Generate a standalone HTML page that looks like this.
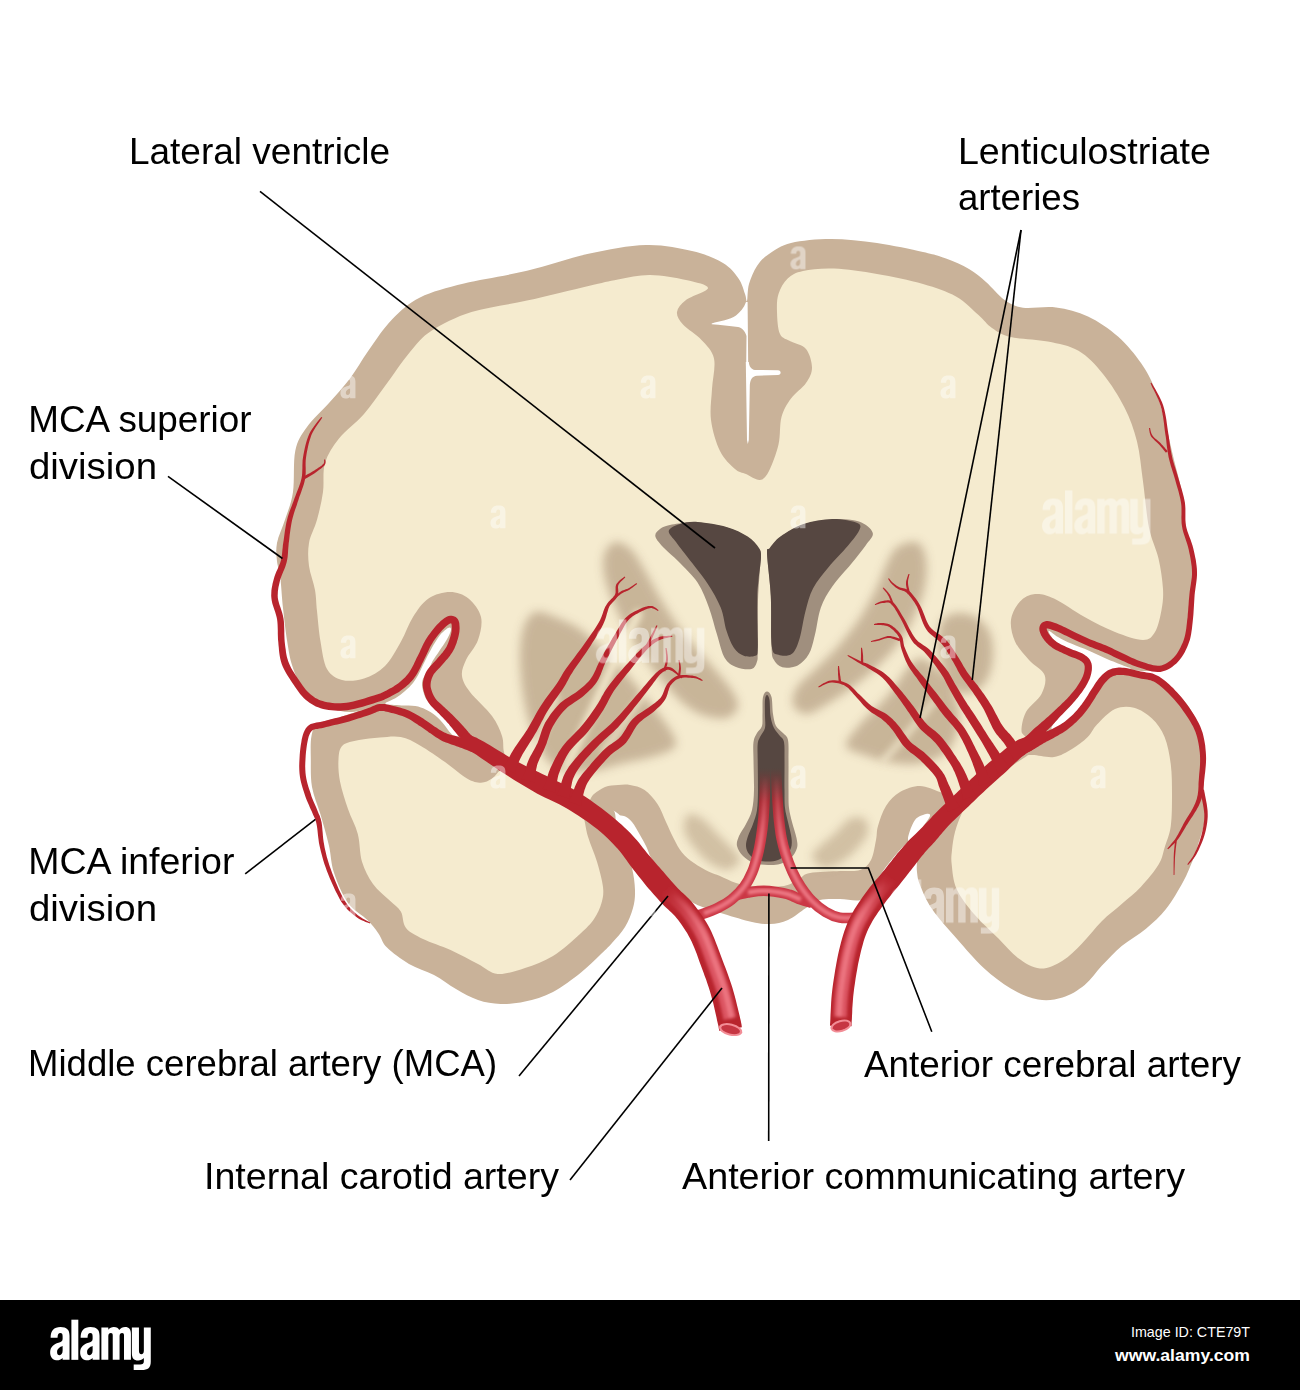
<!DOCTYPE html>
<html><head><meta charset="utf-8"><title>Brain arteries</title>
<style>
html,body{margin:0;padding:0;background:#fff;}
body{width:1300px;height:1390px;overflow:hidden;font-family:"Liberation Sans",sans-serif;}
svg{display:block;}
text{font-family:"Liberation Sans",sans-serif;}
</style></head><body>
<svg width="1300" height="1390" viewBox="0 0 1300 1390">
<defs>
<filter id="b7" x="-30%" y="-30%" width="160%" height="160%"><feGaussianBlur stdDeviation="5"/></filter>
<filter id="b4" x="-30%" y="-30%" width="160%" height="160%"><feGaussianBlur stdDeviation="3.5"/></filter>
<filter id="b2" x="-30%" y="-30%" width="160%" height="160%"><feGaussianBlur stdDeviation="1.6"/></filter>
<linearGradient id="gA" gradientUnits="userSpaceOnUse" x1="0" y1="768" x2="0" y2="835">
<stop offset="0" stop-color="#8c2a2c" stop-opacity="0"/><stop offset="0.5" stop-color="#b02832" stop-opacity="0.9"/><stop offset="1" stop-color="#cb3745" stop-opacity="1"/></linearGradient>
<linearGradient id="gB" gradientUnits="userSpaceOnUse" x1="0" y1="775" x2="0" y2="850">
<stop offset="0" stop-color="#ec7682" stop-opacity="0"/><stop offset="1" stop-color="#ec7682" stop-opacity="1"/></linearGradient>
</defs>
<path d="M747 301C747.7 299.3 747.3 289.8 749 284C750.7 278.2 753.7 271 757 266C760.3 261 763.3 257.8 769 254C774.7 250.2 780.7 245.5 791 243C801.3 240.5 816.7 239 831 239C845.3 239 861.7 240.8 877 243C892.3 245.2 911.5 249.4 923 252C934.5 254.6 938.3 255.7 946 258.5C953.7 261.3 962.3 265.1 969 269C975.7 272.9 980.1 276.8 986 282C991.9 287.2 998.4 295.7 1004.6 300C1010.8 304.3 1014.4 306.4 1023 307.7C1031.6 308.9 1045.2 306 1056 307.5C1066.8 309 1077.7 311.7 1088 316.5C1098.3 321.3 1109.2 328.8 1118 336.5C1126.8 344.2 1134.9 354.4 1141 363C1147.1 371.6 1150.6 378.5 1154.5 388C1158.4 397.5 1161.3 408 1164.6 420C1167.8 432 1170.9 447.2 1174 460C1177.1 472.8 1181 485.7 1183 497C1185 508.3 1184.3 517.5 1186 527.7C1187.7 538 1191.7 548.3 1193 558.5C1194.3 568.7 1194.3 578.8 1194 589C1193.7 599.2 1192 611.8 1191 620C1190 628.2 1189.8 631.8 1188 638C1186.2 644.2 1183.9 651.8 1180 657C1176.1 662.2 1170.3 666.7 1164.6 669C1158.9 671.3 1153.4 670.5 1146 671C1138.6 671.5 1127.7 667.2 1120 672C1112.3 676.8 1110 687 1100 700C1090 713 1076.7 735 1060 750C1043.3 765 1017 779.7 1000 790C983 800.3 969.7 805.3 958 812C946.3 818.7 938.3 825 930 830C921.7 835 914.8 836.5 908 842C901.2 847.5 895.2 855.3 889 863C882.8 870.7 875.7 881.8 871 888C866.3 894.2 866.2 898.2 861 900C855.8 901.8 846.8 899 840 899C833.2 899 825.7 898.5 820 900C814.3 901.5 811.3 904.7 806 908C800.7 911.3 794 917.3 788 920C782 922.7 776 923.7 770 924C764 924.3 759.7 923.7 752 922C744.3 920.3 732.7 916.7 724 914C715.3 911.3 706 908.3 700 906C694 903.7 691.3 901.5 688 900C684.7 898.5 684.4 901.2 680 897C675.6 892.8 667.7 883.7 661.5 875C655.3 866.3 650.2 854.8 643 844.6C635.8 834.4 625.7 820.4 618.5 814C611.3 807.6 605.1 808.3 600 806C594.9 803.7 598 805.7 588 800C578 794.3 558 780.3 540 772C522 763.7 496.7 756.2 480 750C463.3 743.8 451.3 740.7 440 735C428.7 729.3 419.5 720.7 412 716C404.5 711.3 400.5 708.7 395 707C389.5 705.3 386.2 705.2 379 706C371.8 706.8 359.7 711.7 351.5 712C343.3 712.3 336.1 710.1 330 708C323.9 705.9 319.8 703.2 315 699.5C310.2 695.8 304.8 691.5 301 685.7C297.2 680 294.3 672.3 292 665C289.7 657.7 288.8 651.5 287.3 642C285.8 632.5 284.2 618.8 283 608C281.8 597.2 281.3 585.2 280.3 577.4C279.3 569.6 277.6 567 277 561.3C276.4 555.6 275.7 549.9 277 543C278.3 536.1 282.3 528.3 285 519.8C287.7 511.3 291.3 503.5 293 492C294.7 480.5 293 461.5 295.3 450.7C297.6 439.9 301.4 434.9 307 427C312.6 419.1 321.8 411.1 329 403C336.2 394.9 343.4 387.2 350 378.5C356.6 369.8 361.5 360.3 368.5 350.5C375.5 340.7 383.4 328.3 392 319.5C400.6 310.7 408 303.5 420 297.5C432 291.5 446.2 287.9 464 283.5C481.8 279.1 506.2 275.8 527 270.8C547.8 265.9 568.7 258.1 588.5 253.8C608.3 249.5 628.8 245.5 646 245C663.2 244.5 679.2 248 692 251C704.8 254 715.2 258.4 723 263C730.8 267.6 734.8 273.3 738.5 278.5C742.2 283.7 743.6 290.2 745 294C746.4 297.8 746.3 302.7 747 301Z" fill="#c9b299"/>
<path d="M318 724C323.1 720.8 332.8 719.4 342 716.5C351.2 713.6 364.2 708.6 373 706.7C381.8 704.8 387.4 704.3 394.6 705C401.8 705.7 409.3 707.7 416 711C422.7 714.3 427.9 720 434.6 724.6C441.3 729.2 445.1 732.6 456 738.5C466.9 744.4 482.7 751.4 500 760C517.3 768.6 541.7 782.3 560 790C578.3 797.7 600.7 799.2 610 806C619.3 812.8 613.7 824.5 616 831C618.3 837.5 621.3 838.8 624 845C626.7 851.2 630.2 860.5 632 868C633.8 875.5 634.8 883.3 635 890C635.2 896.7 634.7 901.8 633 908C631.3 914.2 628.5 921.2 625 927C621.5 932.8 616.2 938.3 612 943C607.8 947.7 605.2 950.1 600 955C594.8 959.9 588.8 966.3 581 972.5C573.2 978.7 562.3 987.1 553 992C543.7 996.9 533.8 999.6 525 1001.6C516.2 1003.6 508.3 1004.3 500.5 1004C492.7 1003.7 485.4 1002.5 478 1000C470.6 997.5 463.3 993.2 456 989C448.7 984.8 441.8 979.2 434 975C426.2 970.8 416.8 968.6 409 964C401.2 959.4 392.1 952.6 387 947.6C381.9 942.6 381.9 938.3 378.6 933.7C375.4 929.1 372.6 925.1 367.5 920C362.4 914.9 353.6 910.9 348 903C342.4 895.1 337.2 882.5 334 872.8C330.8 863.1 331.1 854.7 328.8 845C326.6 835.3 323.3 824.3 320.5 814.6C317.7 804.9 313.6 796.3 312 787C310.4 777.7 310.9 767.5 310.8 759C310.7 750.5 310.3 741.8 311.5 736C312.7 730.2 312.9 727.2 318 724Z" fill="#c9b299"/>
<path d="M1054 727.7C1061 721.7 1065.9 715.7 1072 709C1078.1 702.3 1084.6 693.4 1090.8 687.7C1097 682 1102.8 677.6 1109 675C1115.2 672.4 1120.5 672 1127.7 672C1134.9 672 1144.8 672.4 1152 675C1159.2 677.6 1165.1 683 1170.8 687.7C1176.5 692.4 1181.4 696.9 1186 703C1190.6 709.1 1195.4 716.9 1198.5 724.6C1201.6 732.3 1203.8 739.8 1204.6 749C1205.3 758.2 1202.8 770.2 1203 780C1203.2 789.8 1205.8 800.3 1206 807.7C1206.2 815.1 1205.4 818.2 1204 824.6C1202.6 831 1199.5 840.1 1197.7 846C1195.9 851.9 1195.5 853.7 1193 859.7C1190.5 865.7 1187.5 873.8 1183 882C1178.5 890.2 1172.2 901.2 1166 909C1159.8 916.8 1153.4 922.5 1146 928.7C1138.6 934.9 1129 939.9 1121.7 946C1114.4 952.1 1108.2 959.1 1102 965.6C1095.8 972.1 1091.3 979.7 1084.7 985C1078.1 990.3 1070.3 995.2 1062.5 997.6C1054.7 1000 1046.6 1001 1038 999.5C1029.4 998 1019.8 993.8 1010.8 988.5C1001.8 983.2 992.7 976.3 983.7 968C974.7 959.7 965.2 948.3 956.6 938.5C948 928.7 938.1 917.9 932 909C925.9 900.1 922.5 891.2 920 885C917.5 878.8 917.5 875.9 917 872C916.5 868.1 916.8 865.5 917 861.5C917.2 857.5 917.8 853.6 918.5 847.7C919.2 841.8 918.9 831.6 921.5 826C924.1 820.4 928.9 817 934 814C939.1 811 941 815 952 807.7C963 800.4 987 780.5 1000 770C1013 759.5 1021 752 1030 745C1039 738 1047 733.7 1054 727.7Z" fill="#c9b299"/>
<path d="M618 279.5C628.2 277.7 638.7 274.9 650 275C661.3 275.1 676.3 277.8 686 280C695.7 282.2 708 284.7 708 288C708 291.3 691.2 296 686 300C680.8 304 677.5 307.9 677 312C676.5 316.1 678.9 319.9 683 324.6C687.1 329.3 696.3 334.4 701.5 340C706.7 345.6 712.2 350.3 714 358.5C715.8 366.7 712.5 378.8 712 389C711.5 399.2 709.7 409.7 711 420C712.3 430.3 716 442.8 720 451C724 459.2 730.7 465.2 735 469C739.3 472.8 741.8 472.2 746 474C750.2 475.8 756.2 480.5 760 480C763.8 479.5 765.9 476.9 769 471C772.1 465.1 776.4 453.6 778.5 444.6C780.6 435.6 779.4 424.7 781.5 417C783.6 409.3 786.9 404.2 791 398.5C795.1 392.8 802.5 388.1 806 383C809.5 377.9 812 373.4 812 367.7C812 362 809.5 353.4 806 349C802.5 344.6 795.3 344 791 341.5C786.7 339 782.3 338.9 780 334C777.7 329.1 777.2 318.7 777 312C776.8 305.3 776.7 299.6 778.5 294C780.3 288.4 783.6 282.3 787.7 278.5C791.8 274.7 795.3 272.6 803 271C810.7 269.4 821.7 268.1 834 268.6C846.3 269.1 862.2 271.4 877 274C891.8 276.6 909.8 280.2 923 284C936.2 287.8 946.8 291.3 956 296.5C965.2 301.7 972.5 309.8 978.5 315C984.5 320.2 986.6 324.3 992 328C997.4 331.7 1001.5 334.8 1010.8 337C1020.1 339.2 1036.4 339.2 1047.7 341.5C1059 343.8 1069.3 345.4 1078.5 350.8C1087.7 356.2 1095.3 364.5 1103 374C1110.7 383.5 1118.9 396.4 1124.6 407.7C1130.3 418.9 1133.9 429.2 1137 441.5C1140.1 453.8 1141 467.1 1143 481.5C1145 495.9 1146.4 514.9 1149 527.7C1151.6 540.5 1156.2 548.3 1158.5 558.5C1160.8 568.7 1162.5 580.4 1163 589C1163.5 597.6 1162.8 602.8 1161.5 610C1160.2 617.2 1158.1 627 1155 632C1151.9 637 1149.7 640 1143 640C1136.3 640 1124.7 635.8 1115 632C1105.3 628.2 1094.8 622.6 1084.6 617C1074.4 611.4 1062.3 602.3 1054 598.5C1045.7 594.7 1040.7 593.5 1035 594C1029.3 594.5 1024 597.2 1020 601.5C1016 605.8 1011.8 613.3 1011 620C1010.2 626.7 1012 634.8 1015 641.5C1018 648.2 1024.1 654.4 1029 660C1033.9 665.6 1042.5 669.3 1044.6 675C1046.7 680.7 1044.6 687.8 1041.5 694C1038.4 700.2 1029.3 705.8 1026 712C1022.7 718.2 1021.5 726 1021.5 731C1021.5 736 1029.6 736.2 1026 742C1022.4 747.8 1008.5 758.8 1000 766C991.5 773.2 982.5 779.8 975 785C967.5 790.2 960.8 795.8 955 797C949.2 798.2 945.8 793.8 940 792C934.2 790.2 926.7 786 920 786C913.3 786 905.7 788.7 900 792C894.3 795.3 889.7 800.3 886 806C882.3 811.7 879.7 820.3 878 826C876.3 831.7 877.2 834.3 876 840C874.8 845.7 873.7 855 871 860C868.3 865 865.2 868.2 860 870C854.8 871.8 848.3 870.5 840 871C831.7 871.5 816.7 871.8 810 873C803.3 874.2 804.3 875.8 800 878C795.7 880.2 792 884.7 784 886C776 887.3 760 886.5 752 886C744 885.5 741.3 884.7 736 883C730.7 881.3 724.5 877.9 720 876C715.5 874.1 713.3 874 709 871.8C704.7 869.6 698.5 866.2 694 863C689.5 859.8 685.4 856.5 682 852.4C678.6 848.3 676.4 843.5 673.7 838.4C671 833.3 668.7 827.7 666 822C663.3 816.3 661.1 809.3 657.5 804C653.9 798.7 649.2 793.2 644.6 790C640 786.8 634.4 785.8 630 785C625.6 784.2 622.2 784.7 618 785C613.8 785.3 609 785.5 605 787C601 788.5 597.3 791.5 594 794C590.7 796.5 590.7 802.3 585 802C579.3 801.7 568.3 796 560 792C551.7 788 543.3 782.7 535 778C526.7 773.3 515.2 768.3 510 764C504.8 759.7 505.3 756.7 504 752C502.7 747.3 504 742 502 736C500 730 497.3 723.3 492 716C486.7 708.7 475 698.7 470 692C465 685.3 462.7 681.3 462 676C461.3 670.7 463.3 666 466 660C468.7 654 475.5 647.2 478 640C480.5 632.8 482.6 623.9 481 617C479.4 610.1 473.7 602.7 468.5 598.5C463.3 594.3 456.7 592 450 592C443.3 592 434.7 594.3 428.5 598.5C422.3 602.7 417.6 609.8 413 617C408.4 624.2 405.7 633.3 401 641.5C396.3 649.7 391.2 659.8 385 666C378.8 672.2 371.2 676.2 364 678.5C356.8 680.8 348.2 681.6 342 680C335.8 678.4 330.6 675.4 327 669C323.4 662.6 322.2 651.2 320.5 641.5C318.8 631.8 317.9 619.6 317 611C316.1 602.4 316.3 597.5 315 590C313.7 582.5 310 573.8 309 566C308 558.2 307.7 550.7 309 543C310.3 535.3 314.7 528.3 317 519.8C319.3 511.3 321.7 501.5 323 492C324.3 482.5 322.3 471.9 325 463C327.7 454.1 332.5 446.7 339 438.5C345.5 430.3 356.3 422.8 364 414C371.7 405.2 377.3 396.3 385 386C392.7 375.7 402.2 361.2 410 352C417.8 342.8 421.2 337.5 431.5 330.8C441.8 324.1 455.6 317 471.5 312C487.4 307 507.5 304.9 527 300.6C546.5 296.3 573.3 289.5 588.5 286C603.7 282.5 607.8 281.3 618 279.5Z" fill="#f5ebcf"/>
<path d="M338.5 759C338.9 753 339.2 748.6 342.6 745.4C346 742.2 352.8 741.3 359 740C365.2 738.7 373 738 380 737.5C387 737 394.1 735.7 400.8 737C407.5 738.3 412.6 741.2 420 745.4C427.4 749.6 437.2 756.5 445 762C452.8 767.5 461 775.1 467 778.6C473 782.1 476.8 782.8 481 782.8C485.2 782.8 488.8 780.7 492 778.6C495.2 776.5 497.2 772.4 500.5 770C503.8 767.6 505.4 762.7 512 764C518.6 765.3 530.3 772.8 540 778C549.7 783.2 563 789.3 570 795C577 800.7 579 805 582 812C585 819 585.5 828.5 588 836.8C590.5 845.1 594.5 853.3 597 861.7C599.5 870.1 602.2 880.1 603 887C603.8 893.9 603 897.7 601.5 903C600 908.3 597.6 913.8 594 919C590.4 924.2 586.8 927.8 580 934C573.2 940.2 562.2 950.3 553 956C543.8 961.7 534.2 965 525 968C515.8 971 505.5 974.7 497.7 974C489.9 973.3 485.9 968 478 964C470.1 960 459.8 954.2 450.6 950C441.4 945.8 430.4 942.7 423 939C415.6 935.3 409.7 932.6 406 928C402.3 923.4 403.5 916.2 400.8 911.6C398.1 907 394.3 905.1 389.7 900.5C385.1 895.9 377.6 890.5 373 884C368.4 877.5 364.5 870 362 861.7C359.5 853.4 360.1 842.8 357.8 834C355.5 825.2 351 817.8 348 809C345 800.2 341.6 789.7 340 781.4C338.4 773.1 338.1 765 338.5 759Z" fill="#f5ebcf"/>
<path d="M1097 724.6C1101.5 719.9 1108.8 711.8 1115 709C1121.2 706.2 1127.8 706.1 1134 707.7C1140.2 709.3 1146.9 713.6 1152 718.5C1157.1 723.4 1161.5 729.3 1164.6 737C1167.7 744.7 1169.6 754.9 1170.8 764.6C1172 774.3 1172 784.8 1172 795C1172 805.2 1172 817.2 1170.8 826C1169.6 834.8 1166.6 841.3 1164.6 847.7C1162.6 854.1 1162.5 858.1 1158.6 864.6C1154.7 871.1 1147.2 880.2 1141 886.8C1134.8 893.4 1128.2 898.3 1121.7 904C1115.2 909.7 1108.6 914.4 1102 921C1095.4 927.6 1088.6 936.8 1082 943.4C1075.4 950 1069.5 956.5 1062.5 960.7C1055.5 964.9 1047.4 969 1040 968.5C1032.6 968 1024.9 963 1018 958C1011.1 953 1005.8 945.8 998.5 938.5C991.2 931.2 981 922.2 974 914C967 905.8 960.3 897.2 956.6 889C952.9 880.8 952.5 871.1 951.7 864.6C950.9 858.1 951.5 855.4 952 850C952.5 844.6 953.4 838 955 832C956.6 826 958.8 819.8 961.5 814C964.2 808.2 965.9 802.7 971 797C976.1 791.3 983.3 786.4 992 780C1000.7 773.6 1016.3 762.7 1023 758.5C1029.7 754.3 1026.8 755.2 1032 755C1037.2 754.8 1047.3 758 1054 757C1060.7 756 1066.4 752.3 1072 749C1077.6 745.7 1083.5 741.1 1087.7 737C1091.9 732.9 1092.5 729.3 1097 724.6Z" fill="#f5ebcf"/>
<path d="M449.9 627.6C450.7 627.9 451.4 628.9 450.8 631C450.2 633.1 448.3 637 446.4 640.3C444.5 643.6 441.8 647.2 439.5 650.7C437.2 654.2 434.4 658 432.6 661C430.9 664 430.4 666.5 429 669C427.6 671.5 425.7 673.7 424.5 676C423.3 678.3 422.2 680.3 422 683C421.8 685.7 422.6 689.2 423.4 692C424.2 694.8 424.9 697.1 426.8 700C428.7 702.9 432 706.5 434.9 709.4C437.8 712.3 440.9 714.4 444 717.5C447.1 720.6 451 724.8 453.3 727.9C455.6 731 457.3 734.3 458 736C458.7 737.7 458.6 738.6 457.4 738.2C456.2 737.8 453.2 735.9 451 733.6C448.8 731.3 446.7 727.5 444 724.4C441.3 721.3 438.1 717.7 435 715.2C431.9 712.7 429 710.9 425.7 709.4C422.4 707.9 419.3 706.7 415.3 706C411.3 705.3 406.5 705.8 401.5 705.4C396.5 705 386.4 704.9 385.4 703.7C384.4 702.5 392.4 700.1 395.7 698C399 695.9 402.1 693.5 405 691C407.9 688.5 410.7 685.9 413 683C415.3 680.1 416.9 677.2 418.8 673.7C420.7 670.2 422.4 666.2 424.5 662C426.6 657.8 429 652.8 431.5 648.4C434 644 437.1 638.9 439.5 635.7C441.9 632.6 444.3 630.9 446 629.5C447.7 628.1 449.1 627.4 449.9 627.6Z" fill="#fff"/>
<path d="M618 817C617.8 815.3 621.7 815.2 624 816C626.3 816.8 629.3 818.8 632 822C634.7 825.2 637.7 831 640 835C642.3 839 644.5 842.7 646 846C647.5 849.3 650 855 649 855C648 855 644 850.8 640 846C636 841.2 628.7 830.8 625 826C621.3 821.2 618.2 818.7 618 817Z" fill="#fff"/>
<path d="M1049.4 630.9C1050.8 631.5 1054.3 634.8 1058 636.9C1061.7 639 1066.6 641.5 1071.8 643.8C1077 646.1 1083.2 648.2 1089 650.7C1094.8 653.2 1100.6 656.3 1106.4 658.8C1112.2 661.3 1119.7 664.1 1123.7 665.7C1127.7 667.3 1131.5 668 1130.6 668.5C1129.6 669 1121.8 668.1 1118 669C1114.2 669.9 1110.9 671.4 1107.6 673.7C1104.3 676 1101 679.7 1098.3 683C1095.6 686.3 1094.1 689.3 1091.4 693.3C1088.7 697.3 1085.7 702.6 1082.2 707C1078.8 711.4 1074.4 716.3 1070.7 719.8C1067 723.3 1063.2 726.2 1060.3 727.9C1057.4 729.6 1054.8 730.4 1053.4 730.2C1052 730 1050.9 728.6 1051.7 726.7C1052.5 724.8 1055 722 1058 718.7C1061 715.4 1065.8 711 1069.5 707C1073.2 703 1076.8 698.9 1079.9 694.5C1083 690.1 1086.1 684.9 1088 680.6C1089.9 676.4 1091.2 672.4 1091.4 669C1091.6 665.6 1090.9 662.5 1089 660C1087.1 657.5 1083.7 655.9 1079.9 654C1076.1 652.1 1070.2 650.7 1066 648.4C1061.8 646.1 1057.4 642.8 1054.6 640.3C1051.8 637.8 1050.3 635 1049.4 633.4C1048.5 631.8 1048 630.3 1049.4 630.9Z" fill="#fff"/>
<path d="M926 814C923.5 814.7 918 816 915 820C912 824 908.5 834.3 908 838C907.5 841.7 909.7 843.7 912 842C914.3 840.3 919 832.3 922 828C925 823.7 929.3 818.3 930 816C930.7 813.7 928.5 813.3 926 814Z" fill="#fff"/>
<path d="M711.7,323.5 C720,321 730,320 736,315.5 C740,312 744,308 746,302 L747.6,302 L748.2,366 L746.2,366 L746.5,336 C745,330 741,327.5 738,327 C730,326 720,325 711.7,324.3Z" fill="#fff"/>
<path d="M745.8,362 L748.8,362 C749,366 751,369.5 755,370 L778,370.3 C781.5,370.5 781.5,375 778,375 L757,375.7 C752,376 750,380 749.8,386 L748.8,440 L747.8,444 L747,440Z" fill="#fff"/>
<g filter="url(#b7)" fill="#c4b094" opacity="0.92">
<path d="M615.2 542.1C619.7 541.1 626.1 544.9 630.8 549.2C635.5 553.5 638.3 559.5 643.4 567.9C648.5 576.4 655.5 590 661.4 599.9C667.4 609.9 673.3 619.4 679.2 627.7C685.2 635.9 691.1 642.4 697 649.4C703 656.4 709.3 662.7 715 669.4C720.8 676.1 727.5 683.7 731.4 689.8C735.2 696 738.7 701.7 738 706.4C737.2 711 732.4 716.3 726.8 717.9C721.3 719.5 711.7 717.9 704.8 715.8C697.9 713.7 691.5 709.7 685.6 705.2C679.6 700.7 674.8 695.1 669 688.7C663.2 682.2 656.9 674.5 650.8 666.4C644.7 658.3 638.3 649.5 632.6 640.1C626.8 630.6 620.9 619.8 616.4 609.6C611.8 599.4 607.1 588 605.1 578.9C603.1 569.8 602.4 561.3 604.1 555.1C605.8 549 610.8 543.1 615.2 542.1Z"/>
<path d="M534.5 612.3C539.6 610.2 545.5 613.2 553.5 616.3C561.5 619.4 573.1 624.2 582.3 630.7C591.5 637.2 600.4 646.7 608.8 655.2C617.3 663.6 625.3 672.3 633 681.4C640.8 690.5 648.8 701.2 655.2 709.6C661.6 718 668 725.8 671.4 731.9C674.7 738 677.8 742.4 675.2 746.3C672.7 750.3 665.2 752.9 656.2 755.8C647.1 758.7 632.7 761.2 620.9 763.9C609 766.6 596.5 771.8 585.1 772C573.8 772.2 561.2 771.2 552.7 765.3C544.2 759.4 539.1 747.4 534.3 736.6C529.6 725.8 526.5 713.5 524.1 700.7C521.7 688 520.2 672 520 660.1C519.8 648.1 520.7 636.9 523.1 628.9C525.6 621 529.5 614.4 534.5 612.3Z"/>
<path d="M687.8 814.7C690.8 812.6 697.6 815.7 702.4 818.8C707.2 821.9 712.1 828.4 716.8 833.2C721.6 837.9 727.1 842.8 730.9 847.3C734.8 851.8 740.5 856.2 740 860C739.5 863.8 733 869.4 728 870C723 870.6 715.3 866.9 709.8 863.3C704.3 859.7 699.1 853.9 694.9 848.5C690.6 843.1 685.3 836.7 684.2 831.1C683 825.5 684.7 816.7 687.8 814.7Z" opacity="0.8"/>
<path d="M917.7 542.4C922.4 544.5 924.8 552.3 926 559.5C927.2 566.7 926.6 576.7 924.9 585.8C923.2 594.8 919.9 604.2 915.6 613.7C911.4 623.1 905.7 633.5 899.2 642.4C892.8 651.2 884.6 659.4 876.8 666.9C869 674.4 860.5 681.1 852.4 687.2C844.3 693.3 835.7 699 828 703.4C820.4 707.9 812.4 713.7 806.5 714C800.7 714.2 794.8 709.5 793.2 705.1C791.5 700.8 793 693.8 796.7 687.8C800.3 681.8 808.4 675.9 815.2 669.2C821.9 662.4 829.7 655.6 837 647.4C844.2 639.1 852.1 629.6 858.7 619.8C865.2 609.9 871.8 597.5 876.4 588.2C881 578.9 882.9 571.1 886.4 564.2C889.9 557.3 892.4 550.5 897.6 546.8C902.8 543.2 912.9 540.2 917.7 542.4Z"/>
<path d="M942.6 620.3C945.9 615.8 952.1 613.5 957.8 613C963.5 612.5 971.3 614.1 976.6 617.5C981.9 620.8 987 626.5 989.8 632.8C992.5 639.1 993.2 647.8 993 655.1C992.8 662.3 991.5 670.3 988.7 676.2C986 682.2 981.4 687.8 976.5 690.6C971.6 693.4 963.9 694.4 959.1 692.9C954.2 691.3 950.4 686.8 947.4 681.4C944.4 676 942.6 667.6 941.1 660.7C939.5 653.7 937.8 646.7 938 639.9C938.2 633.2 939.3 624.8 942.6 620.3Z"/>
<path d="M919.7 658C925.2 657.6 932.5 664.1 937.8 669.2C943.1 674.2 948.1 681.1 951.6 688.2C955.1 695.3 958.3 703.6 959 711.6C959.7 719.7 958.5 729.1 955.7 736.4C953 743.7 949 750.7 942.2 755.3C935.5 759.9 924.3 762.9 915.5 764C906.7 765.1 897.4 763.3 889.3 761.9C881.2 760.6 874 758.5 866.8 755.8C859.6 753.1 847.4 751 846.1 746C844.8 740.9 853.8 731.8 859 725.4C864.1 718.9 871.4 713.2 877.1 707.3C882.7 701.3 888.2 695.5 892.8 689.5C897.5 683.6 900.4 676.8 904.9 671.5C909.4 666.2 914.2 658.4 919.7 658Z"/>
<path d="M864.6 818.9C861.6 816.5 854.9 816.2 850 818.5C845.1 820.9 840.1 828.7 835.3 833.1C830.5 837.5 825.2 841.2 821.3 845C817.4 848.9 811.6 852.2 812 856C812.4 859.8 818.7 867.1 823.7 868C828.7 868.9 836.5 864.6 842.1 861.4C847.6 858.2 852.6 853.4 856.9 848.7C861.2 844 866.5 838.2 867.8 833.3C869.1 828.3 867.5 821.4 864.6 818.9Z" opacity="0.8"/>
</g>
<g filter="url(#b4)" stroke="#f5ebcf" fill="none" stroke-linecap="round">
<path d="M556,697 C548,715 540,738 533,758" stroke-width="6"/>
<path d="M638,614 C626,640 616,658 611,669 C600,695 590,715 583,731 C577,745 571,757 567,766" stroke-width="8"/>
<path d="M652,683 C636,705 618,730 604,752" stroke-width="6" opacity="0.8"/>
<path d="M935,700 C918,722 900,742 884,760" stroke-width="6" opacity="0.8"/>
</g>
<path d="M655.4 536.5C654.7 533.3 657.2 531 660 529C662.8 527 665.7 525.6 672 524.5C678.3 523.4 688.6 522.1 697.7 522.6C706.8 523.1 718.2 525.2 726.5 527.6C734.8 530 742.2 533.7 747.5 537.2C752.8 540.7 756.3 545 758.5 548.5C760.7 552 760.6 549.4 760.5 558C760.4 566.6 758.5 584.7 758 600C757.5 615.3 757.9 639.8 757.7 650C757.5 660.2 758 658.3 757 661.5C756 664.7 755 668.1 751.5 669C748 669.9 740.5 668.9 736 667C731.5 665.1 727.8 663.1 724.6 657.7C721.4 652.3 719.6 642.9 717 634.6C714.4 626.3 712.2 616.4 709 607.7C705.8 599.1 702.8 590.4 697.7 582.7C692.6 575 684.1 567.3 678.5 561.5C672.9 555.7 667.9 552.2 664 548C660.1 543.8 656.1 539.7 655.4 536.5Z" fill="#a08f7e"/>
<path d="M668.8 530.8C669.5 527.8 675.2 525.5 680 524C684.8 522.5 690 521.5 697.7 522C705.5 522.5 718.2 524.6 726.5 527C734.8 529.4 742.3 533 747.7 536.5C753.1 540 756.8 544.5 759 548C761.2 551.5 761.1 552.4 761 557.7C760.9 563 759.1 573.6 758.5 580C757.9 586.4 757.5 588.5 757.3 596C757.1 603.5 757.4 616 757.5 625C757.6 634 758.1 644.9 757.7 650C757.4 655.1 757.7 654.8 755.4 655.8C753.1 656.8 747.4 657.1 743.8 655.8C740.2 654.5 736.9 652.2 734 648C731.1 643.8 728.7 637.5 726.5 630.8C724.3 624.1 724 615.7 720.8 607.7C717.5 599.7 712.5 591 707 582.7C701.5 574.4 693.2 564.5 688 557.7C682.8 550.9 679.2 546.5 676 542C672.8 537.5 668.1 533.8 668.8 530.8Z" fill="#564741"/>
<path d="M770 548.5C772.2 545.7 775 541 780.6 537C786.2 533 794.9 527.5 803.5 524.6C812.1 521.7 823 520.1 832.3 519.6C841.5 519.1 852.3 519.3 859 521.5C865.7 523.7 871.5 528.8 872.7 532.7C873.9 536.6 869.5 539.9 866 545C862.5 550.1 857.1 556.6 851.5 563.5C845.9 570.4 837.4 579.1 832.3 586.5C827.2 593.9 823.7 599.7 820.8 607.7C817.9 615.7 817 626.9 815 634.6C813 642.3 811.9 648.7 809 653.8C806.1 658.9 802.2 663.1 797.7 665.4C793.2 667.6 786.3 668.3 782.3 667.3C778.3 666.3 775.5 663.1 773.7 659.6C771.9 656.1 772 656.6 771.5 646C771 635.4 771.5 611.3 770.8 596C770.1 580.7 767.3 561.9 767.2 554C767.1 546.1 767.8 551.3 770 548.5Z" fill="#a08f7e"/>
<path d="M769.8 548C772 545.1 774.8 540.5 780.4 536.5C786 532.5 794.9 526.9 803.5 524C812.1 521.1 823.3 519.2 832.3 519C841.3 518.8 852.8 521 857.3 523C861.8 525 860.6 527 859 530.8C857.4 534.6 852.8 539.9 847.7 546C842.6 552.1 834.3 560.2 828.5 567.3C822.7 574.4 816.9 581.1 813 588.5C809.1 595.9 807.6 603.2 805.4 611.5C803.2 619.8 801.8 631.5 799.6 638.5C797.4 645.5 795.5 651.1 792 653.8C788.5 656.5 781.9 656.1 778.5 654.8C775.1 653.5 773 655.8 771.7 646C770.4 636.2 771.6 611.4 770.8 596C770 580.6 767.2 561.8 767 553.8C766.8 545.8 767.6 550.9 769.8 548Z" fill="#564741"/>
<path d="M767 691.5C768.4 691.5 770.5 693.2 771.5 697C772.5 700.8 772.2 709.2 773 714C773.8 718.8 774.3 722.8 776 726C777.7 729.2 781 730.7 783 733C785 735.3 787.1 735.5 788 740C788.9 744.5 788.4 751.7 788.5 760C788.6 768.3 788.4 782 788.5 790C788.6 798 788.4 802.7 789 808C789.6 813.3 790.8 817 792 822C793.2 827 795.7 833.7 796.5 838C797.3 842.3 797.9 844.7 797 848C796.1 851.3 793.8 855.3 791 858C788.2 860.7 783.8 862.8 780 864C776.2 865.2 772.3 865.2 768 865C763.7 864.8 758.2 864.5 754 863C749.8 861.5 745.8 858.8 743 856C740.2 853.2 737.7 849.3 737 846C736.3 842.7 737.5 839.7 739 836C740.5 832.3 743.8 828.3 746 824C748.2 819.7 750.7 815.7 752 810C753.3 804.3 753.8 798.3 754 790C754.2 781.7 753.6 768 753.5 760C753.4 752 752.9 746.5 753.5 742C754.1 737.5 755.6 735.7 757 733C758.4 730.3 761.1 729.2 762 726C762.9 722.8 762.3 718.8 762.5 714C762.7 709.2 762.2 700.8 763 697C763.8 693.2 765.6 691.5 767 691.5Z" fill="#a08f7e"/>
<path d="M767 695C767.8 695 768.9 696.5 769.5 700C770.1 703.5 769.8 711.3 770.5 716C771.2 720.7 772.4 724.7 774 728C775.6 731.3 778.3 733.7 780 736C781.7 738.3 783.2 738 784 742C784.8 746 784.4 752 784.5 760C784.6 768 784.4 782 784.5 790C784.6 798 784.4 802.7 785 808C785.6 813.3 786.9 817 788 822C789.1 827 791 833.7 791.5 838C792 842.3 791.9 845.2 791 848C790.1 850.8 788.2 853 786 855C783.8 857 781 858.9 778 860C775 861.1 771.5 861.5 768 861.5C764.5 861.5 760.2 861.2 757 860C753.8 858.8 750.8 856.3 749 854C747.2 851.7 746.2 849 746 846C745.8 843 746.8 839.7 748 836C749.2 832.3 751.5 828.3 753 824C754.5 819.7 756.2 815.7 757 810C757.8 804.3 757.9 798.3 758 790C758.1 781.7 757.8 767.7 757.7 760C757.7 752.3 757.3 747.8 757.7 744C758.1 740.2 758.8 739.7 760 737C761.2 734.3 764.2 731.5 765 728C765.8 724.5 765 720.7 765 716C765 711.3 764.7 703.5 765 700C765.3 696.5 766.2 695 767 695Z" fill="#564741"/>
<path d="M736 895C738 894.6 744.3 893.3 748 892.6C751.7 891.9 754.5 891.3 758 891C761.5 890.7 764.2 890.5 769 891C773.8 891.5 781.7 892.6 787 894C792.3 895.4 796.6 898.1 800.8 899.6C805 901.1 810.1 902.4 812 903" fill="none" stroke="#cb3745" stroke-width="10.6"/>
<path d="M686 918.5C689 917.6 698.6 915.2 703.9 913.4C709.2 911.6 713.1 910.2 717.7 907.9C722.3 905.6 727.1 903.1 731.5 899.6C735.9 896.1 740.5 891.6 744 887C747.5 882.4 750 877.4 752.3 871.9C754.6 866.4 756.4 859.5 757.9 853.9C759.4 848.2 760.1 843.6 761 838C761.9 832.4 762.7 826.3 763.3 820C763.9 813.7 764.2 806.7 764.5 800C764.8 793.3 764.9 785.8 765 780C765.1 774.2 765 767.5 765 765" fill="none" stroke="url(#gA)" stroke-width="10.6" stroke-linecap="round"/>
<path d="M866 916C864.3 916.3 860.4 917.3 856 917.6C851.6 917.9 844.6 918.5 839.6 917.6C834.6 916.7 830.3 914.8 825.7 912C821.1 909.2 816 905.2 811.9 901C807.8 896.8 804 891.9 800.8 887C797.6 882.1 795 877.4 792.5 871.9C790 866.4 787.4 859.5 785.6 853.9C783.8 848.2 782.6 843.6 781.5 838C780.4 832.4 779.7 826.3 779 820C778.3 813.7 777.9 806.7 777.5 800C777.1 793.3 776.8 785.8 776.5 780C776.2 774.2 776.1 767.5 776 765" fill="none" stroke="url(#gA)" stroke-width="10.6" stroke-linecap="round"/>
<path d="M748 892.6C749.7 892.3 754.5 891.3 758 891C761.5 890.7 764.2 890.5 769 891C773.8 891.5 781.7 892.6 787 894C792.3 895.4 798.5 898.7 800.8 899.6" fill="none" stroke="#ee7b86" stroke-width="4.6" filter="url(#b2)"/>
<path d="M703.9 913.4C706.2 912.5 713.1 910.2 717.7 907.9C722.3 905.6 727.1 903.1 731.5 899.6C735.9 896.1 740.5 891.6 744 887C747.5 882.4 750 877.4 752.3 871.9C754.6 866.4 756.4 859.5 757.9 853.9C759.4 848.2 760.1 843.6 761 838C761.9 832.4 762.7 826.3 763.3 820C763.9 813.7 764.2 806.7 764.5 800C764.8 793.3 764.9 785.8 765 780C765.1 774.2 765 767.5 765 765" fill="none" stroke="url(#gB)" stroke-width="4.6" filter="url(#b2)"/>
<path d="M856 917.6C853.3 917.6 844.6 918.5 839.6 917.6C834.6 916.7 830.3 914.8 825.7 912C821.1 909.2 816 905.2 811.9 901C807.8 896.8 804 891.9 800.8 887C797.6 882.1 795 877.4 792.5 871.9C790 866.4 787.4 859.5 785.6 853.9C783.8 848.2 782.6 843.6 781.5 838C780.4 832.4 779.7 826.3 779 820C778.3 813.7 777.9 806.7 777.5 800C777.1 793.3 776.8 785.8 776.5 780C776.2 774.2 776.1 767.5 776 765" fill="none" stroke="url(#gB)" stroke-width="4.6" filter="url(#b2)"/>
<g fill="#b8242d">
<path d="M321.3 417L320.3 418.2L319 419.8L317.4 421.8L315.7 424L313.9 426.4L312.1 428.9L310.5 431.5L309.2 434.1L308.1 436.8L307.1 439.6L306.2 442.6L305.4 445.6L304.7 448.6L304.1 451.6L303.5 454.5L303 457.4L302.6 460.2L302.5 462.9L302.4 465.5L302.4 468.1L302.3 470.6L302.2 473.1L302 475.5L301.6 478L301 480.4L300.3 482.9L299.4 485.4L298.5 488L297.5 490.5L296.5 493.1L295.5 495.7L294.5 498.3L293.6 500.9L292.6 503.4L291.7 505.9L290.7 508.5L289.7 511.1L288.8 513.7L287.9 516.4L287.2 519.2L286.5 522.1L285.9 525.1L285.4 528.1L284.9 531.1L284.5 534.1L284.1 537.1L283.7 539.9L283.3 542.5L282.9 545.1L282.7 547.6L282.4 549.9L282.2 552.2L282 554.3L281.7 556.4L281.4 558.5L280.9 560.6L280.2 562.7L279.4 564.8L278.5 567L277.5 569.3L276.4 571.6L275.4 574L274.5 576.4L273.8 578.9L273.2 581.2L272.6 583.5L272.2 585.8L271.7 588.2L271.4 590.6L271.3 593.1L271.2 595.7L271.4 598.3L271.8 601.1L272.4 603.8L273.3 606.5L274.2 609.2L275.1 611.8L275.9 614.4L276.6 616.9L277.1 619.4L277.4 622L277.6 624.8L277.7 627.6L277.8 630.5L277.8 633.5L277.9 636.4L278 639.4L278.3 642.3L278.5 645.1L278.8 647.7L279 650.4L279.3 653.1L279.7 655.8L280.2 658.5L280.9 661.2L281.7 663.9L282.7 666.5L283.9 669L285.2 671.5L286.6 673.9L288 676.3L289.5 678.6L290.9 680.8L292.4 682.9L293.8 685.1L295.3 687.3L296.9 689.6L298.5 691.8L300.1 693.9L301.9 696L303.7 697.9L305.6 699.7L307.6 701.3L309.5 702.8L311.6 704.1L313.7 705.3L315.8 706.4L318.1 707.3L320.6 708.2L323.1 708.9L325.8 709.5L328.6 710L331.5 710.3L334.5 710.6L337.6 710.7L340.8 710.7L344.1 710.5L347.5 710.2L351.1 709.6L354.9 708.8L358.8 707.8L362.8 706.7L366.6 705.5L370.1 704.4L373.4 703.4L376.1 702.5L378.3 701.8L380.1 701.3L381.7 700.7L383 700.2L384.2 699.7L385.4 699.1L386.7 698.5L388.2 697.8L389.8 697L391.5 696.1L393.4 695.1L395.2 694.1L397.1 693L399 691.9L400.8 690.6L402.5 689.3L404.2 688L405.8 686.7L407.4 685.3L409 683.9L410.5 682.3L412 680.7L413.5 678.9L414.9 677L416.3 675L417.6 672.8L418.8 670.5L420 668.2L421.1 665.9L422.2 663.6L423.3 661.4L424.3 659.2L425.4 657.1L426.4 655L427.3 652.9L428.3 650.9L429.2 648.9L430.1 647L431.1 645.2L432.2 643.4L433.3 641.6L434.5 639.8L435.8 638L437.1 636.3L438.5 634.6L439.8 633L441.1 631.5L442.3 630.1L443.4 628.9L444.6 627.7L445.7 626.7L446.8 625.7L447.8 624.9L448.8 624.3L449.6 623.8L450.2 623.5L450.6 623.4L450.9 623.3L451.1 623.3L451.2 623.4L451.2 623.4L451.2 623.4L451.3 623.5L451.3 623.5L451.3 623.5L451.4 623.9L451.6 624.6L451.7 625.5L451.7 626.5L451.8 627.6L451.8 628.7L451.7 629.7L451.6 630.8L451.5 631.8L451.3 633L451 634.2L450.7 635.4L450.4 636.6L450 637.8L449.6 639.1L449.2 640.3L448.7 641.6L448.3 642.8L447.8 643.9L447.3 645.1L446.8 646.2L446.1 647.4L445.4 648.6L444.6 649.8L443.6 651.1L442.6 652.4L441.4 653.8L440.2 655.2L439 656.6L437.7 658.1L436.5 659.5L435.4 660.8L434.2 662L433 663.3L431.7 664.7L430.4 666.1L429.2 667.5L428 669L427 670.6L426.1 672.1L425.4 673.6L424.7 675.2L424.2 676.7L423.7 678.2L423.4 679.7L423.1 681.1L422.9 682.6L422.8 684L422.8 685.4L422.9 686.8L423 688.2L423.3 689.5L423.6 690.7L423.9 691.9L424.3 693.2L424.7 694.4L425.1 695.7L425.6 697L426.2 698.4L426.9 699.7L427.6 701.1L428.5 702.4L429.4 703.8L430.5 705.2L431.6 706.5L432.9 707.8L434.1 709L435.3 710.2L436.6 711.3L437.7 712.5L438.9 713.6L440 714.8L441.1 715.9L442.2 717.1L443.4 718.2L444.5 719.4L445.6 720.5L446.6 721.7L447.7 722.9L448.8 724.1L449.8 725.4L450.9 726.7L452 728L453.1 729.4L454.1 730.7L455.2 732L456.2 733.3L457.3 734.5L458.2 735.6L459.2 736.7L460.2 737.8L461.1 739L462.2 740.1L463.3 741.3L464.5 742.5L465.9 743.7L467.4 745L469 746.2L470.5 747.4L472 748.6L473.4 749.6L474.5 750.4L475.4 751L480.6 745L479.9 744.2L478.9 743.2L477.8 742L476.5 740.7L475.1 739.3L473.8 738L472.6 736.7L471.5 735.5L470.5 734.4L469.6 733.4L468.6 732.4L467.7 731.3L466.8 730.2L465.8 729.1L464.8 727.9L463.8 726.7L462.6 725.5L461.5 724.3L460.3 723.1L459.2 721.8L458 720.5L456.7 719.2L455.5 718L454.3 716.7L453.1 715.5L451.9 714.3L450.7 713.2L449.5 712L448.3 710.9L447.1 709.8L445.9 708.7L444.7 707.6L443.5 706.4L442.2 705.3L440.9 704.1L439.7 703L438.6 702L437.5 700.9L436.6 699.9L435.8 699L435.1 698L434.5 697L433.9 696L433.4 695L432.9 694L432.5 692.9L432.1 691.9L431.7 690.8L431.4 689.8L431.1 688.8L430.9 687.9L430.7 687L430.6 686.1L430.6 685.2L430.6 684.4L430.7 683.4L430.8 682.4L431 681.3L431.3 680.2L431.6 679.1L432 678L432.5 676.8L433 675.7L433.6 674.6L434.3 673.6L435.2 672.5L436.2 671.3L437.4 670L438.6 668.7L439.9 667.4L441.2 666L442.5 664.5L443.6 663.2L444.9 661.8L446.1 660.3L447.4 658.9L448.6 657.4L449.8 655.9L450.9 654.3L452 652.8L452.9 651.3L453.7 649.8L454.4 648.4L455 646.9L455.6 645.6L456.1 644.2L456.6 642.9L457 641.5L457.4 640.2L457.9 638.8L458.3 637.3L458.6 635.9L458.9 634.5L459.2 633.1L459.4 631.7L459.5 630.3L459.6 628.9L459.6 627.5L459.5 626.1L459.4 624.7L459.3 623.3L459 621.9L458.5 620.5L457.7 619.1L456.8 618L455.7 617.1L454.4 616.4L453 615.9L451.6 615.7L450.1 615.7L448.6 616L447.2 616.5L445.9 617.2L444.6 618L443.3 618.9L442 620L440.7 621.1L439.3 622.4L438 623.7L436.7 625.1L435.4 626.6L434 628.2L432.6 629.9L431.2 631.8L429.8 633.7L428.4 635.6L427.1 637.6L425.8 639.6L424.7 641.6L423.6 643.6L422.5 645.7L421.6 647.8L420.6 649.8L419.7 651.9L418.7 653.9L417.7 656L416.6 658.1L415.5 660.4L414.4 662.7L413.4 664.9L412.3 667.1L411.2 669.1L410 671L408.9 672.8L407.7 674.3L406.4 675.8L405.2 677.2L403.8 678.6L402.4 679.8L401 681.1L399.6 682.3L398.1 683.5L396.5 684.6L394.9 685.6L393.3 686.7L391.6 687.7L389.8 688.6L388.1 689.5L386.5 690.4L384.8 691.2L383.4 691.9L382.3 692.5L381.2 692.9L380.3 693.4L379.2 693.8L377.8 694.2L376.1 694.8L373.9 695.5L371.1 696.3L367.9 697.3L364.4 698.4L360.7 699.6L356.9 700.6L353.2 701.6L349.7 702.3L346.5 702.8L343.6 703.1L340.6 703.3L337.8 703.3L335 703.2L332.3 703L329.7 702.6L327.2 702.2L324.9 701.7L322.7 701.1L320.7 700.5L318.8 699.7L317.1 698.8L315.3 697.9L313.7 696.8L312 695.6L310.4 694.3L308.8 692.8L307.2 691.2L305.6 689.4L304.1 687.5L302.6 685.4L301.1 683.3L299.7 681.2L298.2 679.1L296.8 676.9L295.3 674.7L293.9 672.6L292.6 670.4L291.3 668.2L290.2 666L289.2 663.7L288.3 661.5L287.6 659.3L286.9 657L286.4 654.6L286 652.2L285.7 649.6L285.3 647.1L285 644.4L284.7 641.7L284.5 639L284.4 636.2L284.3 633.4L284.3 630.4L284.2 627.4L284.1 624.4L283.9 621.4L283.5 618.4L282.9 615.4L282.1 612.5L281.2 609.8L280.3 607.1L279.4 604.6L278.7 602.1L278.2 599.9L277.8 597.7L277.7 595.5L277.8 593.4L277.9 591.3L278.2 589.2L278.5 587.1L279 584.9L279.5 582.7L280 580.5L280.6 578.4L281.4 576.3L282.3 574L283.2 571.8L284.2 569.4L285.2 567L286 564.5L286.7 562L287.2 559.6L287.6 557.2L287.8 554.9L288 552.6L288.1 550.4L288.3 548.1L288.5 545.7L288.7 543.3L289.1 540.6L289.4 537.7L289.7 534.8L290.1 531.9L290.5 528.9L291 526L291.5 523.1L292 520.4L292.7 517.7L293.4 515.2L294.2 512.6L295 510L295.9 507.5L296.8 504.9L297.6 502.3L298.5 499.7L299.3 497.1L300.3 494.5L301.2 491.9L302.1 489.3L303 486.7L303.9 484L304.6 481.3L305.2 478.6L305.5 475.9L305.7 473.3L305.7 470.7L305.7 468.1L305.6 465.5L305.6 463L305.7 460.4L306 457.8L306.4 455L306.9 452.1L307.5 449.2L308.1 446.2L308.8 443.3L309.6 440.4L310.5 437.7L311.4 435.1L312.6 432.6L314 430L315.5 427.5L317.2 425.1L318.8 422.8L320.2 420.7L321.4 419L322.3 417.6Z"/>
<path d="M304.2 479.6L305 479L306.3 478.3L307.7 477.4L309.3 476.4L311 475.4L312.7 474.4L314.3 473.4L315.7 472.4L317 471.5L318.3 470.6L319.6 469.6L320.8 468.7L322 467.8L323 466.8L324 465.9L324.7 465.1L325.2 464.1L325.5 463.2L325.6 462.3L325.6 461.5L325.4 460.8L325.3 460.2L325.2 459.7L325.1 459.4L324.1 459.4L324.1 459.8L324.1 460.4L324.1 460.9L324.2 461.6L324.1 462.2L324 462.8L323.7 463.4L323.3 463.9L322.6 464.6L321.8 465.4L320.7 466.2L319.6 467L318.3 467.8L317 468.7L315.7 469.6L314.3 470.4L312.9 471.3L311.3 472.2L309.7 473.2L308 474.1L306.3 475L304.8 475.8L303.6 476.5L302.6 477Z"/>
<path d="M485.6 748.3L484.7 747.8L483.5 747.3L482.1 746.6L480.6 745.8L478.9 745L477.2 744.2L475.4 743.4L473.8 742.6L472.1 741.9L470.4 741.3L468.6 740.6L466.8 739.9L465 739.2L463.2 738.5L461.4 737.9L459.6 737.2L457.7 736.6L455.8 736.1L453.9 735.6L452.1 735.2L450.4 734.7L448.8 734.2L447.2 733.7L445.8 733.1L444.4 732.5L443 731.8L441.7 731L440.4 730.2L439 729.4L437.7 728.5L436.3 727.6L434.8 726.7L433.4 725.7L432.1 724.8L430.7 723.8L429.3 722.8L427.8 721.8L426.3 720.7L424.8 719.7L423.2 718.6L421.5 717.6L419.9 716.6L418.2 715.5L416.4 714.5L414.6 713.4L412.7 712.4L410.8 711.4L408.8 710.5L406.8 709.7L404.8 709L402.8 708.4L400.7 707.8L398.7 707.2L396.8 706.7L394.9 706.3L393.2 705.9L391.5 705.5L389.9 705.1L388.3 704.7L386.7 704.4L385 704.1L383.3 703.9L381.5 703.9L379.6 704L377.8 704.3L376.1 704.8L374.5 705.4L373 706L371.5 706.7L370 707.4L368.3 708.1L366.4 708.8L364.1 709.5L361.6 710.4L358.9 711.3L356 712.2L353.1 713.2L350.2 714.1L347.3 715L344.5 715.8L341.7 716.6L338.8 717.4L335.9 718.1L332.9 718.8L330 719.5L327.2 720.2L324.6 720.9L322.2 721.5L320.2 722L318.3 722.3L316.4 722.6L314.6 722.9L312.7 723.4L310.7 724.1L308.8 725.2L307.1 726.7L305.7 728.5L304.6 730.4L303.7 732.5L302.9 734.7L302.3 737.1L301.7 739.6L301.3 742.2L300.8 745L300.4 748L300 751.4L299.7 755L299.5 758.7L299.3 762.5L299.2 766.2L299.3 769.9L299.5 773.3L299.9 776.5L300.4 779.6L301.1 782.6L301.9 785.5L302.7 788.2L303.6 790.9L304.4 793.4L305.2 795.9L306.1 798.4L307 800.8L308 803.1L309 805.3L309.9 807.4L310.8 809.4L311.7 811.3L312.4 813.1L313.1 814.7L313.7 816L314.3 817.2L314.8 818.2L315.2 819.3L315.6 820.4L316 821.8L316.4 823.5L316.8 825.6L317.2 827.9L317.5 830.6L317.8 833.4L318.1 836.3L318.5 839.3L318.9 842.4L319.5 845.4L320.2 848.4L320.9 851.4L321.7 854.5L322.5 857.5L323.4 860.7L324.4 863.9L325.6 867.3L326.8 870.7L328.3 874.4L329.9 878.4L331.7 882.5L333.5 886.6L335.4 890.7L337.4 894.6L339.3 898.2L341.1 901.4L343 904.1L344.8 906.5L346.7 908.7L348.5 910.6L350.4 912.3L352.2 913.8L354 915.3L355.8 916.6L357.7 918L359.7 919.2L361.7 920.2L363.7 921.1L365.6 921.9L367.3 922.6L368.7 923.1L369.7 923.5L370.3 922.5L369.2 921.9L367.9 921.2L366.3 920.4L364.5 919.5L362.6 918.5L360.8 917.3L358.9 916.1L357.2 914.8L355.6 913.3L353.9 911.8L352.3 910.2L350.6 908.5L349 906.7L347.3 904.6L345.7 902.3L344.1 899.6L342.4 896.5L340.6 893L338.8 889.2L337 885.1L335.3 880.9L333.6 876.8L332.1 872.9L330.8 869.3L329.6 865.9L328.5 862.6L327.6 859.5L326.7 856.4L326 853.4L325.3 850.4L324.6 847.5L324.1 844.6L323.6 841.7L323.2 838.7L322.9 835.8L322.7 832.9L322.4 830.1L322.2 827.4L321.9 824.8L321.6 822.5L321.1 820.5L320.7 818.8L320.2 817.4L319.8 816.1L319.3 815L318.7 813.8L318.2 812.5L317.6 810.9L316.8 809.1L316 807.1L315.1 805.1L314.2 803L313.3 800.9L312.4 798.7L311.5 796.4L310.8 794.1L310 791.6L309.1 789.1L308.3 786.5L307.6 783.9L306.9 781.2L306.3 778.4L305.8 775.6L305.5 772.7L305.3 769.6L305.2 766.2L305.3 762.7L305.5 759L305.7 755.4L306 752L306.4 748.7L306.8 745.8L307.2 743.2L307.7 740.8L308.2 738.6L308.7 736.5L309.4 734.8L310.1 733.2L310.8 731.9L311.7 730.9L312.5 730.2L313.3 729.8L314.4 729.4L315.7 729.1L317.4 728.9L319.3 728.6L321.5 728.2L323.8 727.7L326.2 727.1L328.8 726.5L331.5 725.8L334.4 725.1L337.4 724.4L340.4 723.7L343.4 723L346.3 722.2L349.2 721.4L352.1 720.5L355.1 719.6L358.1 718.6L361 717.7L363.7 716.8L366.3 716L368.6 715.2L370.7 714.5L372.6 713.7L374.3 713L375.7 712.4L377 711.8L378.2 711.4L379.2 711.1L380.4 711L381.6 710.9L382.8 711L384 711.1L385.3 711.4L386.7 711.7L388.2 712.1L389.8 712.5L391.4 712.9L393.2 713.3L395 713.8L396.8 714.3L398.7 714.9L400.5 715.5L402.3 716.1L404.1 716.8L405.8 717.5L407.4 718.3L409 719.1L410.7 720.1L412.3 721.1L414 722.2L415.6 723.2L417.3 724.3L418.8 725.4L420.3 726.3L421.8 727.3L423.2 728.3L424.6 729.3L426 730.3L427.5 731.3L428.9 732.4L430.4 733.3L431.8 734.3L433.1 735.2L434.5 736.2L435.9 737.2L437.4 738.1L438.9 739.1L440.5 740L442.2 740.9L444 741.7L445.9 742.4L447.7 743.1L449.5 743.8L451.3 744.4L453.1 745L454.8 745.6L456.4 746.2L458.1 746.8L459.9 747.4L461.7 748.1L463.4 748.8L465.2 749.4L466.9 750.1L468.6 750.8L470.2 751.4L471.9 752L473.7 752.6L475.5 753.2L477.2 753.9L478.8 754.4L480.3 755L481.5 755.4L482.4 755.7Z"/>
<path d="M458.1 741.7L458.7 742.3L459.5 743L460.5 743.8L461.6 744.7L462.8 745.7L464 746.6L465.3 747.6L466.5 748.5L467.6 749.3L468.6 749.9L469.4 750.4L470.2 750.9L471.1 751.4L472.3 752.2L473.9 753.2L476 754.6L478.8 756.4L482 758.7L485.8 761.2L489.8 764L494 766.8L498.2 769.7L502.4 772.4L506.5 775L510.3 777.5L514.1 779.9L517.9 782.2L521.7 784.5L525.5 786.8L529.3 789L533.1 791.2L536.9 793.5L540.8 795.5L544.8 797.4L548.7 799.3L552.4 801L556.1 802.8L559.7 804.6L563.3 806.5L566.9 808.6L570.6 810.8L574.5 813.2L578.5 815.8L582.5 818.4L586.4 821.1L590.1 823.8L593.7 826.4L597.1 828.9L600.1 831.5L603 834L605.7 836.5L608.3 839L610.8 841.5L613.2 843.9L615.5 846.4L617.7 848.8L619.6 851.1L621.4 853.3L623.1 855.5L624.7 857.8L626.4 860.1L628.1 862.6L629.9 865.1L631.8 867.6L633.7 870L635.5 872.3L637.4 874.7L639.2 877L641.1 879.3L642.9 881.6L644.8 883.9L646.6 886.2L648.5 888.4L650.4 890.5L652.3 892.7L654.2 894.9L656.1 897.1L658.1 899.3L660 901.4L662 903.6L664.1 905.7L666.2 907.7L668.2 909.5L670 911.2L671.7 912.8L673.4 914.4L674.9 916.1L676.5 917.9L678.2 920.1L680 922.5L681.8 925.1L683.6 927.7L685.4 930.4L687.1 933.1L688.7 935.9L690.2 938.7L691.6 941.5L692.9 944.4L694.2 947.5L695.5 950.8L696.8 954.1L698 957.6L699.3 961.2L700.7 964.9L702 968.5L703.4 972.2L704.7 975.9L706.1 979.6L707.3 983.3L708.6 987L709.7 990.6L710.8 994.2L711.8 997.9L712.9 1001.8L713.9 1005.9L714.8 1010L715.7 1013.9L716.5 1017.6L717.2 1020.9L717.8 1023.6L718.3 1025.6L718.6 1027L718.7 1028L718.8 1028.6L718.9 1029L719 1029.5L719 1030.2L719.1 1030.8L741.9 1027.2L741.8 1026.9L741.8 1026.7L741.7 1026.1L741.6 1025.1L741.4 1023.9L741.1 1022.4L740.7 1020.6L740.2 1018.4L739.6 1015.7L738.8 1012.5L737.9 1008.8L736.9 1004.8L735.9 1000.5L734.8 996.2L733.6 991.9L732.4 987.8L731.1 983.8L729.8 979.9L728.4 976L727 972.1L725.6 968.2L724.1 964.4L722.7 960.7L721.3 957.1L720 953.6L718.7 950.1L717.4 946.5L716 942.9L714.6 939.3L713.1 935.7L711.5 932.1L709.8 928.5L707.9 925.1L706 921.8L703.9 918.5L701.9 915.4L699.8 912.4L697.7 909.5L695.6 906.7L693.5 904.1L691.4 901.5L689.1 899.1L687 897L685 895.1L683.1 893.3L681.3 891.7L679.6 890.1L678 888.4L676.2 886.5L674.4 884.6L672.6 882.5L670.8 880.4L668.9 878.3L667.1 876.2L665.2 874L663.4 871.8L661.5 869.7L659.6 867.6L657.7 865.4L655.8 863.2L653.9 861.1L652 858.8L650.1 856.6L648.2 854.4L646.4 852.3L644.7 850.1L643 847.9L641.1 845.5L639.2 843L637.1 840.5L634.8 837.9L632.3 835.2L629.8 832.6L627.2 830.1L624.5 827.5L621.7 824.8L618.7 822.2L615.6 819.5L612.3 816.8L608.9 814.1L605.4 811.2L601.6 808.3L597.7 805.4L593.6 802.4L589.5 799.5L585.3 796.7L581.2 794L577.1 791.4L573 789L568.9 786.9L564.9 784.9L561 783L557.2 781.2L553.5 779.4L549.8 777.6L546.1 775.7L542.3 773.9L538.4 772L534.5 770.2L530.6 768.3L526.7 766.4L522.9 764.4L519 762.4L515.1 760.4L511.2 758.2L507 755.7L502.7 753.1L498.4 750.5L494.3 748L490.4 745.6L486.9 743.6L484 741.8L481.6 740.5L479.7 739.4L478.2 738.7L477.1 738.1L476.1 737.6L475.3 737.3L474.5 736.9L473.5 736.5L472.3 735.9L470.9 735.3L469.5 734.7L468.2 734.1L466.9 733.5L465.7 733L464.7 732.6L463.9 732.3Z"/>
<path d="M515.1 773.4L515.2 772.9L515.3 772.2L515.4 771.5L515.6 770.7L515.9 769.8L516.2 768.7L516.5 767.6L516.9 766.4L517.5 765.2L518.1 763.8L518.6 762.5L519.2 761.1L519.8 759.7L520.6 758.1L521.4 756.4L522.4 754.6L523.6 752.6L524.9 750.4L526.4 748L528 745.5L529.7 742.8L531.5 740.1L533.2 737.2L534.9 734.3L536.6 731.4L538.3 728.3L539.9 725.2L541.5 722L543.2 718.9L544.8 715.8L546.5 712.8L548.2 710L550 707.2L551.9 704.4L553.9 701.5L555.9 698.7L557.9 696L559.8 693.3L561.7 690.7L563.3 688.2L564.7 685.9L565.9 683.9L566.9 682.1L567.8 680.4L568.7 678.7L569.6 677L570.7 675.1L572.1 672.9L573.7 670.3L575.6 667.5L577.7 664.6L579.9 661.4L582.1 658.3L584.4 655L586.5 651.9L588.6 648.8L590.6 645.7L592.5 642.6L594.5 639.4L596.5 636.3L598.3 633.2L600.1 630.2L601.7 627.3L603.1 624.5L604.3 621.8L605.3 619.3L606.1 616.8L606.7 614.5L607.3 612.4L607.9 610.4L608.5 608.5L609.2 606.8L610.1 605.3L611.2 604L612.3 602.7L613.5 601.4L614.7 600.2L615.8 598.9L616.8 597.5L617.7 596L618.2 594.4L618.3 592.8L618.3 591.2L618.2 589.7L618.1 588.4L618 587.2L618.1 586L618.4 585.1L618.9 584L619.7 582.9L620.7 581.8L621.8 580.7L622.9 579.7L623.9 578.8L624.7 578L625.3 577.4L624.7 576.6L624 577.1L623.1 577.8L622 578.6L620.7 579.5L619.5 580.6L618.3 581.7L617.3 582.9L616.4 584.1L615.9 585.5L615.6 587L615.6 588.5L615.6 589.9L615.6 591.2L615.6 592.5L615.3 593.7L614.9 594.8L614.3 595.8L613.4 596.9L612.4 598L611.2 599.1L609.9 600.4L608.6 601.8L607.3 603.4L606.2 605.2L605.1 607.1L604.3 609.1L603.5 611.1L602.8 613.3L602 615.4L601.1 617.7L600.1 619.9L598.9 622.3L597.4 624.8L595.7 627.5L593.8 630.4L591.8 633.3L589.7 636.3L587.6 639.3L585.5 642.3L583.4 645.2L581.3 648.2L579 651.2L576.7 654.3L574.4 657.4L572.1 660.4L569.8 663.4L567.8 666.2L565.9 668.7L564.4 671.1L563.1 673.1L562 675L561 676.7L560.1 678.3L559.1 680L558 681.8L556.7 683.8L555.1 686.1L553.3 688.5L551.3 691.1L549.3 693.8L547.2 696.6L545 699.5L543 702.5L541 705.4L539.1 708.4L537.3 711.6L535.5 714.7L533.8 717.9L532.1 721L530.4 724L528.7 726.9L527.1 729.7L525.4 732.3L523.6 734.9L521.8 737.5L520 740.1L518.3 742.5L516.6 744.9L515 747.2L513.6 749.4L512.4 751.4L511.3 753.3L510.4 755L509.6 756.6L508.9 758L508.2 759.3L507.6 760.5L507.1 761.6L506.4 762.6L505.7 763.5L505.1 764.3L504.5 765.1L503.9 765.7L503.4 766.3L503 766.8L502.6 767.1Z"/>
<path d="M614.8 599L615.4 598.5L616.2 597.8L617.2 597L618.3 596.1L619.4 595.2L620.5 594.3L621.6 593.5L622.5 592.9L623.4 592.4L624.2 592L625 591.7L625.8 591.4L626.7 591.1L627.6 590.7L628.5 590.3L629.4 589.8L630.4 589.1L631.5 588.3L632.6 587.5L633.8 586.6L634.8 585.8L635.7 585L636.5 584.4L637.1 583.9L636.5 583.1L635.9 583.5L635 584.1L634 584.7L632.9 585.5L631.8 586.3L630.6 587L629.5 587.7L628.6 588.2L627.7 588.7L626.9 589L626 589.3L625.2 589.6L624.3 589.9L623.4 590.2L622.5 590.6L621.5 591.1L620.4 591.8L619.3 592.6L618.1 593.4L616.9 594.3L615.7 595.2L614.7 595.9L613.9 596.6L613.2 597Z"/>
<path d="M535.1 782.5L535 782L535 781.3L535 780.5L535 779.7L535.1 778.7L535.1 777.6L535.2 776.5L535.4 775.3L535.6 773.9L535.8 772.5L535.9 771.1L536.1 769.7L536.4 768.3L536.7 766.9L537 765.4L537.5 763.8L538.2 762.1L539 760.2L539.9 758.1L541 755.9L542.1 753.6L543.3 751.2L544.4 748.8L545.4 746.3L546.5 743.7L547.3 741.1L548.2 738.5L549 736L549.8 733.5L550.7 731.1L551.6 728.9L552.8 726.6L554 724.4L555.5 722L557.1 719.6L558.7 717.3L560.4 715L562.2 712.8L564 710.7L565.8 708.9L567.5 707.2L569.4 705.8L571.4 704.4L573.5 703L575.7 701.6L578 700.1L580.2 698.6L582.3 696.9L584.3 695.2L586.2 693.5L588.1 691.8L589.9 690.1L591.8 688.2L593.5 686.3L595.2 684.2L596.8 681.9L598.3 679.5L599.5 677L600.7 674.4L601.7 671.8L602.7 669.2L603.7 666.6L604.8 664L606 661.3L607.4 658.5L608.9 655.5L610.4 652.4L612 649.2L613.7 646.1L615.3 643L616.8 640.1L618.3 637.4L619.6 634.8L620.9 632.3L622.2 630L623.4 627.7L624.6 625.6L625.8 623.6L627 621.8L628.3 620.2L629.7 618.8L631.2 617.5L632.7 616.3L634.3 615.3L635.9 614.3L637.6 613.5L639.1 612.6L640.7 611.8L642.1 611.1L643.5 610.4L644.9 609.8L646.2 609.2L647.4 608.8L648.6 608.4L649.7 608.2L650.8 608.1L651.7 608.1L652.8 608.4L653.8 608.7L654.8 609.2L655.8 609.7L656.7 610.2L657.4 610.7L658.1 610.9L658.5 610.1L658 609.7L657.4 609.2L656.6 608.5L655.6 607.8L654.6 607.2L653.4 606.6L652.2 606.1L650.8 605.9L649.5 605.9L648.1 606.1L646.8 606.4L645.3 606.8L643.9 607.3L642.4 607.8L640.9 608.5L639.3 609.2L637.8 609.9L636.1 610.7L634.4 611.5L632.7 612.5L630.9 613.6L629.1 614.8L627.4 616.2L625.7 617.8L624.1 619.6L622.7 621.5L621.3 623.5L619.9 625.7L618.6 628L617.2 630.3L615.8 632.7L614.3 635.2L612.7 637.8L611 640.7L609.3 643.7L607.5 646.7L605.7 649.8L604 652.9L602.3 655.9L600.8 658.7L599.4 661.5L598.1 664.2L596.9 666.8L595.8 669.4L594.7 671.8L593.6 674L592.5 676.1L591.2 678.1L589.8 679.9L588.3 681.7L586.7 683.3L585 684.9L583.3 686.5L581.4 688L579.6 689.6L577.7 691.1L575.8 692.5L573.8 693.8L571.7 695.1L569.5 696.4L567.2 697.9L564.8 699.4L562.5 701.2L560.2 703.1L558.1 705.3L556.1 707.5L554 709.9L552.1 712.3L550.2 714.8L548.5 717.4L546.8 720L545.2 722.6L543.9 725.2L542.7 728L541.7 730.7L540.8 733.4L540 735.9L539.2 738.4L538.4 740.7L537.6 742.9L536.5 745.1L535.4 747.3L534.2 749.5L532.9 751.7L531.7 753.9L530.5 756L529.5 758.1L528.5 760.2L527.7 762.2L527 764.1L526.5 765.9L526 767.6L525.6 769.1L525.3 770.5L525 771.7L524.6 772.7L524.2 773.8L523.7 774.8L523.3 775.8L522.9 776.6L522.5 777.4L522.1 778.1L521.8 778.7L521.5 779.1Z"/>
<path d="M555.8 792.7L555.8 792.1L555.7 791.5L555.8 790.8L555.8 790L555.9 789L556 788L556.1 786.8L556.3 785.4L556.6 783.9L556.9 782.3L557.2 780.7L557.5 779.1L557.8 777.4L558.2 775.7L558.8 773.8L559.5 771.9L560.4 769.6L561.4 767.1L562.5 764.6L563.7 761.9L565 759.2L566.4 756.6L567.9 754L569.5 751.5L571.3 749.2L573.3 746.9L575.6 744.5L578 742.1L580.5 739.6L583.1 737L585.5 734.4L587.9 731.7L590 729L592.1 726.3L594.2 723.5L596.1 720.7L598.1 717.9L599.9 715.2L601.7 712.5L603.4 709.9L604.9 707.3L606.3 704.8L607.5 702.5L608.6 700.2L609.8 698L611 695.8L612.3 693.5L613.8 691.1L615.6 688.5L617.7 685.8L619.8 682.9L622.1 680L624.5 677L626.8 674.1L629.2 671.3L631.4 668.5L633.5 665.8L635.7 663L637.9 660.3L640.1 657.6L642.2 655.1L644.2 652.7L646.1 650.5L648 648.6L649.7 646.9L651.3 645.5L652.8 644.3L654.2 643.2L655.6 642.3L657 641.4L658.5 640.6L659.9 639.9L661.5 639.2L663.2 638.7L665 638.2L666.8 637.9L668.5 637.6L670 637.3L671.4 637L672.4 636.8L672.2 635.8L671.2 635.8L669.9 635.8L668.3 635.8L666.5 635.9L664.6 636L662.7 636.2L660.7 636.6L658.9 637.1L657.2 637.7L655.5 638.4L653.9 639.2L652.3 640.1L650.6 641.2L648.8 642.4L647 643.8L645 645.4L642.9 647.3L640.7 649.4L638.4 651.7L636.1 654.1L633.7 656.7L631.3 659.3L629 661.9L626.6 664.5L624.3 667.1L621.8 669.9L619.3 672.7L616.8 675.6L614.4 678.5L612 681.4L609.8 684.2L607.8 686.9L606 689.5L604.4 692L603.1 694.4L601.8 696.6L600.6 698.9L599.4 701L598.1 703.2L596.6 705.5L595 708L593.2 710.6L591.3 713.2L589.4 715.9L587.5 718.5L585.4 721.2L583.4 723.8L581.3 726.3L579.2 728.7L576.9 731.1L574.5 733.5L572 736L569.5 738.5L567 741.1L564.7 743.7L562.5 746.5L560.6 749.3L558.7 752.1L557.1 755L555.5 757.8L554.1 760.6L552.8 763.3L551.6 765.8L550.5 768.1L549.5 770.4L548.7 772.6L548 774.7L547.4 776.7L546.9 778.4L546.5 780L546.1 781.4L545.7 782.6L545.2 783.7L544.7 784.7L544.2 785.7L543.8 786.5L543.4 787.3L543 787.9L542.7 788.4L542.3 788.8Z"/>
<path d="M647.8 647.7L648.2 646.8L648.8 645.6L649.4 644.3L650.1 642.7L650.9 641.1L651.6 639.5L652.3 637.9L653 636.5L653.6 635L654.3 633.5L654.9 631.9L655.6 630.4L656.2 629L656.7 627.7L657.1 626.6L657.5 625.7L656.5 625.3L656.1 626.1L655.5 627.1L654.9 628.3L654.1 629.7L653.3 631.2L652.5 632.7L651.8 634.1L651 635.5L650.3 636.9L649.5 638.4L648.6 640L647.8 641.6L647 643.1L646.2 644.4L645.6 645.5L645.2 646.3Z"/>
<path d="M569.8 798.7L569.8 798.1L569.7 797.5L569.8 796.8L569.8 796L569.9 795L570 794L570.1 792.8L570.3 791.4L570.6 789.9L570.9 788.2L571.2 786.5L571.6 784.7L571.9 783L572.3 781.2L572.8 779.6L573.4 778L574.1 776.4L574.9 774.8L575.7 773.2L576.7 771.6L577.7 769.9L578.9 768.2L580.3 766.3L581.8 764.2L583.6 762L585.6 759.6L587.9 757.1L590.2 754.5L592.6 751.8L595.1 749.2L597.5 746.7L599.8 744.3L602 742.2L604.2 740.1L606.5 738.1L608.7 736.1L611 734L613.3 731.9L615.7 729.6L618.1 727.2L620.4 724.6L622.8 721.8L625.2 719L627.5 716.1L629.8 713.2L632.1 710.4L634.3 707.6L636.4 705L638.4 702.5L640.4 699.9L642.3 697.4L644.2 695L646 692.7L647.7 690.4L649.4 688.3L651 686.2L652.5 684.2L653.9 682.3L655.3 680.5L656.5 678.8L657.7 677.2L658.9 675.8L660 674.5L661.2 673.5L662.3 672.5L663.5 671.7L664.5 671L665.5 670.4L666.5 670.1L667.5 669.8L668.5 669.8L669.6 669.9L670.9 670.4L672.5 671.2L674.2 672.4L676 673.8L677.7 675.2L679.3 676.5L680.7 677.6L681.7 678.4L682.3 677.6L681.5 676.7L680.3 675.5L678.9 674L677.3 672.4L675.5 670.8L673.8 669.3L672.1 668.1L670.4 667.3L668.8 666.9L667.3 666.8L665.8 667L664.3 667.4L662.9 668L661.6 668.7L660.2 669.6L658.8 670.5L657.4 671.7L655.9 673L654.5 674.4L653.1 676L651.7 677.6L650.2 679.3L648.6 681.1L647 683L645.3 684.9L643.5 687L641.7 689.2L639.8 691.5L637.8 693.8L635.8 696.1L633.7 698.6L631.6 701L629.4 703.5L627.1 706.2L624.7 708.9L622.3 711.7L619.9 714.4L617.5 717.1L615.1 719.6L612.7 722L610.5 724.2L608.2 726.3L606 728.3L603.7 730.2L601.3 732.2L599 734.3L596.6 736.4L594.2 738.7L591.8 741.1L589.3 743.6L586.7 746.2L584.2 748.8L581.7 751.5L579.3 754L577.2 756.5L575.2 758.8L573.4 760.9L571.8 762.9L570.4 764.8L569 766.6L567.8 768.4L566.7 770.2L565.6 772.1L564.6 774L563.6 776L562.8 778.2L562.1 780.3L561.5 782.3L561 784.1L560.5 785.8L560.1 787.3L559.7 788.6L559.2 789.7L558.7 790.7L558.2 791.7L557.8 792.5L557.4 793.3L557 793.9L556.7 794.4L556.3 794.8Z"/>
<path d="M665.2 671.4L665.4 670.5L665.8 669.4L666.2 668.1L666.6 666.6L667.1 665L667.5 663.3L667.8 661.7L668 660.1L668 658.5L667.9 656.7L667.7 655L667.4 653.2L667.2 651.6L666.9 650.1L666.7 648.9L666.5 647.9L665.5 648.1L665.5 649L665.7 650.3L665.8 651.8L665.9 653.4L666.1 655.1L666.1 656.8L666.1 658.5L666 659.9L665.8 661.3L665.4 662.8L665 664.4L664.5 665.9L664 667.4L663.5 668.7L663.1 669.8L662.8 670.6Z"/>
<path d="M581.2 805.9L581.2 805.4L581.2 804.8L581.3 804.1L581.4 803.3L581.5 802.3L581.7 801.3L581.9 800.1L582.2 798.8L582.6 797.3L583.1 795.6L583.5 793.8L584 791.9L584.5 790.1L585.1 788.4L585.7 786.7L586.3 785.2L587 783.8L587.7 782.5L588.5 781.2L589.3 779.9L590.3 778.5L591.4 777L592.6 775.4L594.1 773.5L595.8 771.5L597.7 769.2L599.8 766.7L602 764.2L604.3 761.7L606.5 759.3L608.7 757.1L610.6 755.1L612.4 753.5L614.2 752.1L616 750.7L617.9 749.4L619.9 748L621.9 746.5L624 744.7L626 742.7L627.8 740.3L629.5 737.8L631 735.3L632.4 732.7L633.8 730.2L635.2 727.9L636.6 725.8L638.1 724L639.7 722.3L641.6 720.7L643.6 719.1L645.7 717.6L647.9 716.1L650 714.5L652.1 713L654 711.4L655.6 710L657.1 708.6L658.6 707.2L660 705.9L661.4 704.5L662.6 703.1L663.8 701.5L665 699.8L666 698L666.8 696L667.5 694L668 692L668.6 690.2L669.1 688.4L669.7 686.9L670.4 685.6L671.3 684.4L672.3 683.2L673.3 682.2L674.4 681.2L675.5 680.3L676.6 679.6L677.9 679L679.2 678.4L680.7 678L682.4 677.8L684.3 677.6L686.3 677.6L688.3 677.7L690.3 677.8L692 677.9L693.6 678.1L695 678.3L696.3 678.6L697.6 679L698.7 679.5L699.8 679.9L700.8 680.4L701.6 680.7L702.3 681L702.7 680L702.1 679.7L701.4 679.2L700.5 678.6L699.4 678L698.2 677.4L696.9 676.8L695.5 676.3L694 675.9L692.3 675.6L690.5 675.4L688.5 675.2L686.4 675L684.3 674.9L682.2 675L680.2 675.2L678.4 675.6L676.7 676.1L675.2 676.8L673.7 677.7L672.3 678.7L671 679.7L669.8 680.9L668.7 682.2L667.6 683.6L666.5 685.2L665.6 687L664.8 688.8L664.1 690.7L663.4 692.5L662.7 694.3L661.9 695.8L661 697.2L660 698.4L658.8 699.6L657.6 700.7L656.3 701.8L654.9 702.9L653.4 704L651.7 705.3L650 706.6L648.3 707.8L646.3 709.1L644.1 710.5L641.9 711.9L639.5 713.4L637.2 715.1L634.9 716.9L632.7 719L630.7 721.3L628.9 723.8L627.3 726.3L625.8 728.9L624.3 731.3L622.9 733.6L621.5 735.6L620 737.3L618.5 738.8L616.9 740.1L615.2 741.3L613.3 742.6L611.3 743.9L609.2 745.3L607 747L604.8 748.9L602.6 751.1L600.3 753.4L598 756L595.6 758.6L593.4 761.1L591.2 763.6L589.3 766L587.5 768.1L585.9 769.9L584.5 771.5L583.2 773L582 774.5L580.9 776L579.8 777.5L578.7 779L577.7 780.8L576.7 782.7L575.8 784.7L574.9 786.8L574.2 788.8L573.5 790.7L572.9 792.4L572.3 793.9L571.8 795.2L571.2 796.3L570.6 797.3L570.1 798.3L569.6 799.1L569.2 799.8L568.8 800.4L568.4 800.8L568.1 801.2Z"/>
<path d="M680 677.2L680.1 676.5L680.2 675.6L680.4 674.4L680.5 673.2L680.7 671.8L680.8 670.5L680.9 669.2L680.9 668L680.8 666.9L680.7 665.7L680.5 664.5L680.3 663.3L680 662.3L679.8 661.3L679.6 660.5L679.5 659.9L678.5 660.1L678.5 660.7L678.6 661.5L678.8 662.5L678.9 663.5L679 664.7L679.1 665.8L679.1 666.9L679.1 668L679 669.1L678.8 670.3L678.6 671.6L678.4 672.8L678.2 674.1L677.9 675.2L677.7 676.1L677.6 676.8Z"/>
<path d="M1150.5 383.3L1151.3 385.1L1152.4 387.4L1153.8 390.1L1155.4 393.2L1156.9 396.5L1158.4 399.8L1159.7 403.2L1160.8 406.4L1161.6 409.6L1162.3 413L1163 416.5L1163.5 420L1164 423.6L1164.4 427.2L1164.8 430.6L1165.3 433.9L1165.8 437L1166.2 440L1166.5 442.9L1166.8 445.8L1167.2 448.6L1167.6 451.4L1168.1 454.3L1168.6 457.2L1169.3 460.1L1170.1 463L1170.9 465.9L1171.8 468.8L1172.7 471.7L1173.6 474.6L1174.5 477.4L1175.3 480.3L1176.1 483.2L1176.9 486.1L1177.8 489L1178.6 491.8L1179.3 494.7L1180 497.5L1180.6 500.4L1181.1 503.2L1181.4 505.9L1181.5 508.7L1181.5 511.6L1181.5 514.4L1181.4 517.3L1181.5 520.3L1181.6 523.3L1182 526.3L1182.6 529.4L1183.4 532.4L1184.3 535.3L1185.3 538.2L1186.2 541.1L1187.2 544L1188 546.8L1188.7 549.6L1189.3 552.4L1189.9 555.2L1190.4 558.1L1190.9 560.9L1191.3 563.7L1191.7 566.5L1191.9 569.3L1192 572L1192 574.8L1191.8 577.5L1191.4 580.2L1191 583L1190.6 585.8L1190.1 588.7L1189.7 591.7L1189.4 594.7L1189.1 597.9L1188.8 601.1L1188.6 604.4L1188.3 607.7L1188.1 610.9L1187.8 614.1L1187.6 617.2L1187.2 620.1L1186.9 622.9L1186.6 625.6L1186.3 628.2L1185.9 630.7L1185.5 633.1L1185 635.5L1184.4 637.8L1183.7 640L1182.8 642.4L1181.7 644.8L1180.6 647.2L1179.4 649.5L1178.1 651.8L1176.7 653.9L1175.3 655.8L1173.8 657.5L1172.2 659L1170.6 660.5L1168.8 661.8L1167 663L1165.2 664L1163.3 664.8L1161.4 665.4L1159.6 665.7L1157.7 665.8L1155.6 665.6L1153.3 665.2L1150.8 664.6L1148.3 663.9L1145.8 663.1L1143.3 662.2L1141 661.5L1138.9 660.7L1136.9 660L1134.9 659.1L1133 658.3L1131.1 657.4L1129.2 656.4L1127.2 655.5L1125.1 654.5L1123 653.5L1120.9 652.5L1118.8 651.5L1116.6 650.4L1114.4 649.4L1112.2 648.3L1110 647.3L1107.8 646.3L1105.6 645.3L1103.3 644.5L1101.1 643.6L1098.9 642.8L1096.8 641.9L1094.6 641.1L1092.5 640.3L1090.4 639.4L1088.2 638.4L1086.1 637.5L1083.9 636.5L1081.7 635.4L1079.6 634.4L1077.4 633.4L1075.3 632.4L1073.3 631.4L1071.3 630.5L1069.4 629.5L1067.4 628.5L1065.5 627.6L1063.6 626.7L1061.7 625.8L1059.9 625L1058.2 624.3L1056.6 623.6L1055 623L1053.5 622.5L1052 622L1050.5 621.6L1049.1 621.3L1047.7 621.1L1046.2 621.1L1044.7 621.4L1043.3 621.9L1042 622.8L1041 623.8L1040.2 625L1039.7 626.2L1039.4 627.5L1039.3 628.8L1039.4 630.2L1039.7 631.5L1040.1 632.8L1040.6 634.1L1041.2 635.4L1041.9 636.6L1042.7 637.9L1043.5 639L1044.3 640.2L1045.2 641.3L1046.2 642.4L1047.3 643.5L1048.5 644.7L1049.7 645.8L1051.1 646.8L1052.6 647.9L1054.2 648.9L1055.9 649.9L1057.7 650.8L1059.6 651.7L1061.5 652.6L1063.3 653.5L1065.2 654.3L1066.9 655.1L1068.8 655.9L1070.7 656.7L1072.7 657.4L1074.5 658.1L1076.3 658.7L1077.9 659.4L1079.2 660L1080.3 660.7L1081.3 661.3L1082.1 662L1082.8 662.5L1083.3 663.1L1083.7 663.6L1084 664.1L1084.3 664.7L1084.5 665.4L1084.7 666.2L1084.7 667.1L1084.7 668.3L1084.6 669.5L1084.4 670.8L1084.2 672.1L1083.8 673.5L1083.4 674.8L1082.9 676.2L1082.3 677.6L1081.6 679L1080.8 680.5L1079.9 682L1079 683.6L1078 685.1L1076.9 686.7L1075.9 688.2L1074.7 689.7L1073.5 691.2L1072.2 692.8L1070.9 694.3L1069.5 695.9L1068.1 697.4L1066.8 698.9L1065.4 700.3L1064 701.7L1062.5 703.1L1061.1 704.5L1059.6 705.9L1058.1 707.3L1056.6 708.7L1055.2 710.1L1053.7 711.4L1052.3 712.7L1051 713.9L1049.6 715.2L1048.3 716.4L1047 717.6L1045.6 718.7L1044.3 719.9L1043.1 721L1041.8 722.1L1040.5 723.2L1039.3 724.3L1038 725.4L1036.7 726.5L1035.4 727.6L1034 728.7L1032.7 730L1031.2 731.4L1029.7 732.9L1028.1 734.4L1026.7 735.8L1025.3 737L1024.2 738.1L1023.4 738.9L1028.6 745.1L1029.5 744.4L1030.8 743.6L1032.3 742.5L1033.9 741.3L1035.6 740L1037.3 738.7L1039 737.4L1040.6 736.3L1041.9 735.1L1043.2 733.9L1044.5 732.8L1045.7 731.6L1047 730.4L1048.3 729.2L1049.6 728L1050.9 726.7L1052.1 725.4L1053.4 724.1L1054.6 722.7L1055.8 721.3L1057.1 719.9L1058.3 718.5L1059.6 717.1L1060.8 715.7L1062.2 714.4L1063.6 712.9L1065 711.5L1066.4 710L1067.9 708.6L1069.4 707L1070.8 705.5L1072.2 703.9L1073.6 702.3L1075 700.7L1076.4 699.1L1077.8 697.5L1079.1 695.8L1080.4 694.1L1081.7 692.4L1082.9 690.7L1084 689.1L1085.1 687.4L1086.1 685.7L1087.1 684L1088 682.3L1088.8 680.6L1089.6 678.9L1090.2 677.2L1090.7 675.5L1091.2 673.7L1091.5 672L1091.8 670.3L1091.9 668.6L1091.9 666.9L1091.8 665.2L1091.5 663.6L1091 662.2L1090.4 660.8L1089.7 659.5L1088.7 658.3L1087.7 657.3L1086.6 656.3L1085.4 655.4L1084.1 654.5L1082.5 653.6L1080.8 652.8L1078.9 652L1077.1 651.3L1075.2 650.6L1073.3 649.9L1071.6 649.2L1069.9 648.5L1068.1 647.7L1066.3 646.9L1064.5 646.1L1062.7 645.2L1061 644.4L1059.4 643.6L1057.9 642.7L1056.6 641.9L1055.5 641.1L1054.4 640.2L1053.4 639.3L1052.5 638.4L1051.7 637.5L1050.9 636.6L1050.2 635.7L1049.5 634.8L1048.9 633.9L1048.3 632.9L1047.8 632L1047.4 631.1L1047.1 630.3L1046.8 629.6L1046.7 629L1046.7 628.8L1046.7 628.6L1046.7 628.5L1046.8 628.4L1046.8 628.5L1046.7 628.5L1046.7 628.5L1046.7 628.5L1046.8 628.5L1047.2 628.5L1047.9 628.5L1048.8 628.7L1050 629L1051.2 629.4L1052.6 629.9L1054.1 630.4L1055.6 630.9L1057.1 631.6L1058.8 632.3L1060.5 633.1L1062.4 634L1064.3 634.9L1066.3 635.8L1068.3 636.8L1070.3 637.8L1072.3 638.7L1074.4 639.7L1076.6 640.7L1078.7 641.8L1081 642.8L1083.2 643.8L1085.4 644.8L1087.6 645.8L1089.8 646.7L1092.1 647.6L1094.3 648.5L1096.4 649.3L1098.6 650.1L1100.8 651L1102.9 651.8L1105 652.7L1107.1 653.6L1109.3 654.6L1111.4 655.6L1113.6 656.7L1115.8 657.7L1118 658.7L1120.2 659.7L1122.3 660.7L1124.3 661.6L1126.3 662.5L1128.3 663.4L1130.3 664.3L1132.4 665.2L1134.5 666L1136.7 666.8L1139 667.5L1141.4 668.3L1143.9 669.1L1146.5 669.9L1149.2 670.7L1152 671.4L1154.8 671.8L1157.6 672L1160.4 671.9L1163 671.3L1165.5 670.5L1167.9 669.5L1170.2 668.2L1172.4 666.7L1174.4 665.1L1176.4 663.4L1178.2 661.5L1179.9 659.5L1181.6 657.3L1183.1 654.9L1184.6 652.4L1185.9 649.8L1187.1 647.2L1188.2 644.6L1189.1 642L1190 639.4L1190.6 636.8L1191.1 634.2L1191.5 631.5L1191.9 628.9L1192.2 626.3L1192.5 623.5L1192.8 620.7L1193.1 617.7L1193.4 614.6L1193.6 611.3L1193.8 608L1194 604.7L1194.2 601.5L1194.4 598.3L1194.6 595.3L1194.9 592.3L1195.3 589.5L1195.7 586.6L1196.1 583.7L1196.5 580.8L1196.8 577.9L1197 575L1197 572L1196.9 569L1196.6 566L1196.2 563L1195.8 560.1L1195.2 557.2L1194.6 554.3L1194 551.4L1193.3 548.4L1192.5 545.5L1191.5 542.5L1190.5 539.6L1189.4 536.8L1188.4 533.9L1187.4 531.2L1186.6 528.4L1186 525.7L1185.6 522.9L1185.4 520.2L1185.4 517.3L1185.4 514.5L1185.4 511.6L1185.4 508.6L1185.2 505.6L1184.9 502.6L1184.3 499.6L1183.7 496.7L1182.9 493.8L1182.1 490.8L1181.3 487.9L1180.4 485.1L1179.6 482.2L1178.7 479.3L1177.9 476.4L1177 473.5L1176.1 470.6L1175.2 467.8L1174.3 464.9L1173.4 462.1L1172.6 459.3L1172 456.4L1171.4 453.6L1170.9 450.9L1170.4 448.1L1170 445.3L1169.6 442.5L1169.2 439.6L1168.8 436.6L1168.3 433.5L1167.8 430.2L1167.3 426.8L1166.8 423.3L1166.3 419.6L1165.7 416L1165 412.4L1164.2 408.9L1163.2 405.6L1162 402.3L1160.5 398.9L1158.8 395.6L1157 392.3L1155.4 389.3L1153.8 386.7L1152.5 384.4L1151.5 382.7Z"/>
<path d="M1149 428.1L1149.1 428.7L1149.2 429.5L1149.3 430.5L1149.5 431.6L1149.7 432.8L1150.1 434.1L1150.5 435.3L1151.1 436.4L1151.9 437.5L1152.9 438.6L1153.9 439.6L1155 440.7L1156.2 441.7L1157.3 442.7L1158.3 443.7L1159.3 444.7L1160.2 445.7L1161.2 446.9L1162.1 448L1163.1 449.2L1163.9 450.3L1164.7 451.3L1165.4 452.1L1165.9 452.8L1167.7 451.2L1167.2 450.6L1166.5 449.8L1165.7 448.9L1164.8 447.8L1163.8 446.7L1162.8 445.5L1161.7 444.4L1160.7 443.3L1159.7 442.3L1158.5 441.3L1157.4 440.3L1156.2 439.3L1155.1 438.4L1154.1 437.4L1153.2 436.5L1152.5 435.6L1151.9 434.6L1151.4 433.6L1151.1 432.5L1150.8 431.4L1150.5 430.3L1150.3 429.3L1150.2 428.5L1150 427.9Z"/>
<path d="M1020 756.4L1021.1 755.9L1022.6 755.1L1024.3 754.2L1026.3 753.2L1028.3 752.1L1030.3 751L1032.2 750L1033.9 749.1L1035.5 748.2L1037 747.3L1038.4 746.4L1039.8 745.5L1041.2 744.7L1042.5 743.9L1043.9 743.1L1045.2 742.4L1046.6 741.6L1047.9 740.9L1049.3 740.2L1050.7 739.4L1052.2 738.7L1053.6 737.9L1055.1 737.1L1056.6 736.2L1058.1 735.4L1059.5 734.6L1060.9 733.8L1062.4 732.9L1063.9 732L1065.4 731L1066.9 729.9L1068.4 728.8L1069.9 727.6L1071.5 726.3L1073 725L1074.5 723.6L1076.1 722.2L1077.5 720.7L1079 719.3L1080.4 717.8L1081.7 716.4L1083 714.9L1084.2 713.4L1085.4 711.9L1086.6 710.5L1087.7 708.9L1088.8 707.4L1089.9 705.9L1091 704.3L1092.1 702.6L1093.1 701L1094.2 699.3L1095.2 697.7L1096.1 696.1L1097.1 694.6L1098.1 693.1L1099.1 691.6L1100.1 690L1101.1 688.5L1102 687L1103 685.6L1103.9 684.3L1104.9 683.1L1105.8 682.1L1106.8 681L1107.7 680L1108.7 679.1L1109.6 678.3L1110.5 677.6L1111.5 677L1112.4 676.5L1113.4 676L1114.4 675.7L1115.5 675.4L1116.6 675.1L1117.7 675L1119 674.9L1120.4 674.9L1121.8 674.9L1123.4 675L1125 675.2L1126.8 675.5L1128.8 675.8L1130.8 676.3L1132.9 676.8L1135 677.3L1137.2 677.8L1139.3 678.3L1141.4 678.7L1143.4 679.1L1145.3 679.3L1147.2 679.6L1148.9 679.9L1150.6 680.3L1152.2 680.9L1153.8 681.6L1155.5 682.6L1157.3 683.7L1159.1 685L1160.9 686.4L1162.7 688L1164.6 689.7L1166.5 691.4L1168.3 693.3L1170.2 695.2L1172.1 697.2L1174 699.3L1175.9 701.5L1177.8 703.8L1179.7 706.1L1181.5 708.5L1183.2 711L1185 713.4L1186.7 716L1188.4 718.6L1190.1 721.2L1191.6 723.9L1193.1 726.5L1194.3 729.2L1195.5 731.9L1196.4 734.7L1197.2 737.5L1197.9 740.5L1198.5 743.5L1199 746.5L1199.4 749.5L1199.8 752.6L1200 755.6L1200.1 758.6L1200.1 761.7L1200 764.8L1199.8 768L1199.5 771.2L1199.2 774.2L1199 777.1L1198.8 779.8L1198.6 782.2L1198.5 784.4L1198.5 786.4L1198.4 788.3L1198.3 790L1198.1 791.7L1197.9 793.3L1197.7 794.9L1197.3 796.5L1197 798L1196.6 799.4L1196.1 800.8L1195.6 802.2L1195.1 803.6L1194.4 805.1L1193.6 806.8L1192.7 808.5L1191.7 810.3L1190.6 812.2L1189.4 814.1L1188.2 816.1L1186.9 818.1L1185.7 820.1L1184.5 822.1L1183.4 824.1L1182.3 826.2L1181.2 828.3L1180.2 830.3L1179.1 832.3L1178.1 834.3L1177 836.1L1176 837.8L1174.9 839.4L1173.7 841L1172.4 842.6L1171.1 844.1L1170 845.5L1168.9 846.8L1168 847.8L1167.3 848.7L1168.1 849.3L1168.9 848.6L1169.9 847.7L1171.1 846.6L1172.4 845.3L1173.8 843.9L1175.3 842.4L1176.7 840.8L1178 839.2L1179.2 837.5L1180.4 835.7L1181.6 833.8L1182.8 831.8L1184 829.8L1185.2 827.8L1186.3 825.8L1187.5 823.9L1188.7 822L1190 820.1L1191.3 818.1L1192.6 816.2L1193.8 814.2L1195 812.3L1196.2 810.4L1197.2 808.6L1198.1 806.9L1198.9 805.4L1199.6 803.8L1200.3 802.3L1200.8 800.8L1201.4 799.3L1201.9 797.6L1202.3 795.9L1202.7 794.1L1203.1 792.3L1203.3 790.5L1203.5 788.7L1203.7 786.8L1203.9 784.7L1204 782.6L1204.2 780.2L1204.5 777.6L1204.8 774.8L1205.2 771.7L1205.5 768.5L1205.8 765.2L1206 761.9L1206.1 758.5L1206 755.2L1205.8 752.1L1205.5 748.9L1205.2 745.6L1204.7 742.4L1204.1 739.2L1203.4 736L1202.6 732.8L1201.5 729.7L1200.3 726.6L1198.9 723.6L1197.4 720.7L1195.8 717.8L1194.1 715L1192.3 712.3L1190.5 709.6L1188.8 707L1187 704.5L1185.1 702L1183.2 699.5L1181.2 697.1L1179.2 694.8L1177.2 692.5L1175.2 690.4L1173.3 688.3L1171.3 686.4L1169.3 684.5L1167.3 682.7L1165.3 681L1163.3 679.4L1161.2 677.9L1159.1 676.6L1157 675.4L1154.8 674.4L1152.6 673.6L1150.4 673.1L1148.3 672.7L1146.3 672.4L1144.4 672.1L1142.6 671.8L1140.7 671.5L1138.8 671L1136.7 670.5L1134.6 669.9L1132.4 669.4L1130.3 668.9L1128.1 668.4L1126 668.1L1124 667.8L1122.2 667.7L1120.4 667.6L1118.7 667.6L1117.1 667.7L1115.4 667.9L1113.8 668.2L1112.2 668.6L1110.6 669.2L1109.1 669.8L1107.6 670.6L1106.2 671.5L1104.9 672.5L1103.7 673.5L1102.5 674.6L1101.3 675.7L1100.2 676.9L1099 678.3L1097.9 679.7L1096.8 681.2L1095.7 682.8L1094.7 684.3L1093.7 685.9L1092.7 687.4L1091.7 688.9L1090.7 690.5L1089.7 692.1L1088.7 693.7L1087.7 695.4L1086.7 697L1085.7 698.5L1084.7 700L1083.7 701.5L1082.6 703L1081.6 704.4L1080.5 705.8L1079.4 707.2L1078.3 708.6L1077.2 710L1076 711.3L1074.8 712.6L1073.5 713.9L1072.2 715.2L1070.8 716.5L1069.3 717.8L1067.9 719L1066.4 720.2L1065 721.4L1063.6 722.4L1062.3 723.3L1060.9 724.2L1059.6 725L1058.2 725.8L1056.8 726.5L1055.4 727.3L1054 728L1052.6 728.8L1051.2 729.4L1049.8 730.1L1048.4 730.7L1046.9 731.3L1045.4 731.9L1043.9 732.6L1042.3 733.3L1040.8 734L1039.2 734.8L1037.8 735.7L1036.3 736.5L1034.9 737.4L1033.5 738.3L1032.1 739.1L1030.6 740L1029.1 740.9L1027.4 742L1025.6 743.2L1023.7 744.4L1021.8 745.7L1020 746.9L1018.3 747.9L1017 748.9L1016 749.6Z"/>
<path d="M1200 790.4L1200.4 792.3L1201 794.8L1201.6 797.8L1202.3 801L1203 804.5L1203.6 807.9L1204 811.1L1204.3 814.1L1204.3 816.7L1204.2 819.4L1203.9 822L1203.6 824.6L1203.2 827.1L1202.7 829.6L1202.2 832.1L1201.6 834.6L1200.9 837.1L1200.1 839.6L1199.3 842.2L1198.3 844.7L1197.4 847.1L1196.4 849.4L1195.4 851.6L1194.5 853.5L1193.6 855.3L1192.6 857L1191.5 858.6L1190.5 860L1189.5 861.3L1188.6 862.5L1187.9 863.5L1187.3 864.3L1188.1 864.9L1188.7 864.2L1189.6 863.3L1190.6 862.2L1191.7 861L1192.8 859.5L1194 858L1195.2 856.3L1196.3 854.5L1197.3 852.5L1198.4 850.4L1199.5 848.1L1200.6 845.6L1201.7 843.1L1202.7 840.5L1203.6 838L1204.4 835.4L1205.1 832.9L1205.8 830.3L1206.3 827.7L1206.8 825.1L1207.2 822.4L1207.5 819.6L1207.7 816.8L1207.7 813.9L1207.6 810.8L1207.2 807.4L1206.7 803.8L1206 800.3L1205.4 797L1204.8 794L1204.3 791.5L1204 789.6Z"/>
<path d="M1175.1 839.9L1175 841L1174.9 842.5L1174.7 844.2L1174.5 846.2L1174.3 848.3L1174.1 850.5L1173.9 852.7L1173.8 855L1173.7 857.4L1173.7 860.1L1173.6 863L1173.6 865.9L1173.6 868.7L1173.6 871.3L1173.6 873.4L1173.6 875L1174.4 875L1174.5 873.4L1174.5 871.3L1174.6 868.8L1174.7 865.9L1174.8 863L1174.9 860.1L1175 857.4L1175.2 855L1175.4 852.8L1175.6 850.6L1175.8 848.4L1176.1 846.3L1176.3 844.4L1176.6 842.7L1176.7 841.2L1176.9 840.1Z"/>
<path d="M1042.7 726.6L1041.8 727.1L1040.6 727.7L1039.2 728.5L1037.7 729.4L1036.2 730.4L1034.6 731.3L1033.2 732.1L1031.9 732.8L1030.8 733.6L1029.7 734.3L1028.7 734.9L1027.8 735.5L1026.9 736L1026 736.5L1025.1 737.1L1024.2 737.5L1023.6 737.8L1022.9 738L1022.1 738.3L1020.9 738.7L1019.4 739.3L1017.7 740.1L1015.8 741.2L1013.7 742.6L1011.5 744.1L1009.2 745.9L1006.8 747.8L1004.3 749.8L1001.7 751.9L999.1 754.1L996.5 756.2L994 758.3L991.6 760.4L989.1 762.6L986.6 764.8L984.1 767.1L981.5 769.4L979 771.7L976.4 774.1L973.9 776.4L971.3 778.8L968.8 781.2L966.2 783.6L963.7 786L961.2 788.4L958.7 790.8L956.2 793.2L953.8 795.5L951.4 797.8L948.9 800.1L946.5 802.5L944.1 804.8L941.7 807.1L939.4 809.3L937.2 811.6L935 813.7L932.9 815.8L931 817.9L929.1 819.9L927.4 821.7L925.7 823.6L924.1 825.3L922.6 827L921 828.5L919.5 830.1L918 831.5L916.5 833L915 834.4L913.4 835.9L911.8 837.5L910.2 839.1L908.5 840.8L906.9 842.6L905.2 844.5L903.6 846.3L902 848.2L900.4 850L898.9 851.8L897.3 853.6L895.8 855.4L894.4 857.2L893.1 858.8L891.9 860.4L890.7 862L889.4 863.6L888 865.3L886.5 867.3L884.8 869.4L882.8 871.8L880.5 874.5L878.1 877.5L875.4 880.6L872.7 883.8L870 887.1L867.4 890.5L865 893.7L862.8 896.8L860.6 899.9L858.5 903L856.4 906.2L854.3 909.5L852.4 912.9L850.5 916.5L848.7 920.1L847.1 923.8L845.7 927.4L844.4 931.1L843.2 934.8L842.1 938.6L841 942.4L840 946.4L839 950.6L838 955.1L837 960L836.1 965L835.2 970.1L834.4 975.2L833.6 980.3L832.9 985.1L832.3 989.7L831.8 994.2L831.4 998.8L831.1 1003.3L830.9 1007.5L830.7 1011.4L830.5 1015L830.4 1018L830.3 1020.4L830.2 1022.2L830.1 1023.6L830 1024.5L830 1025.3L830.1 1026.2L830.1 1026.9L830.1 1026L830.1 1025.8L851.5 1026.2L851.6 1025.6L851.5 1024.5L851.5 1024.9L851.5 1025.4L851.5 1025.3L851.6 1024.7L851.6 1023.5L851.7 1021.6L851.9 1019L852 1015.9L852.2 1012.4L852.3 1008.6L852.6 1004.6L852.9 1000.5L853.2 996.4L853.7 992.3L854.2 988L854.9 983.4L855.6 978.6L856.4 973.7L857.3 968.8L858.1 964.1L859.1 959.6L860 955.4L860.9 951.5L861.8 947.9L862.8 944.4L863.7 941.1L864.7 938L865.8 935L867 932L868.3 929.1L869.7 926.2L871.2 923.4L872.8 920.6L874.5 917.8L876.4 915L878.3 912.1L880.4 909.2L882.4 906.3L884.5 903.4L886.8 900.3L889.3 897.2L891.8 894.1L894.3 891L896.8 888L899.1 885.2L901.2 882.6L903 880.3L904.6 878.3L906 876.5L907.3 874.8L908.5 873.3L909.6 871.8L910.9 870.2L912.2 868.6L913.6 866.7L915 864.9L916.4 863L917.9 861.2L919.3 859.3L920.7 857.5L922.1 855.8L923.5 854.2L924.8 852.6L926.1 851.1L927.5 849.6L928.8 848.1L930.3 846.6L931.8 845L933.3 843.3L935 841.5L936.6 839.6L938.2 837.7L939.7 835.8L941.3 833.9L942.9 832.1L944.5 830.2L946.2 828.2L948 826.3L949.9 824.2L952.1 822.1L954.3 820L956.6 817.7L959 815.5L961.4 813.1L963.8 810.8L966.2 808.5L968.7 806.2L971.1 803.8L973.6 801.4L976.1 799L978.6 796.6L981.1 794.3L983.6 791.9L986.1 789.6L988.6 787.3L991.1 785L993.6 782.8L996.1 780.5L998.6 778.3L1001.1 776.1L1003.5 773.9L1006 771.7L1008.3 769.5L1010.8 767.1L1013.2 764.8L1015.5 762.6L1017.8 760.4L1019.8 758.5L1021.7 756.8L1023.3 755.4L1024.5 754.5L1025.4 753.8L1026.2 753.4L1026.9 753L1027.8 752.6L1028.9 752L1030.3 751.3L1031.8 750.5L1033 749.6L1034.1 748.9L1035.1 748.1L1036.1 747.3L1037.1 746.6L1038.1 745.8L1039.1 745L1040.1 744.2L1041.3 743.1L1042.6 741.9L1043.9 740.7L1045.3 739.4L1046.6 738.2L1047.7 737.1L1048.6 736.1L1049.3 735.4Z"/>
<path d="M1025.7 753.9L1025.3 753.6L1024.8 753.2L1024.2 752.8L1023.6 752.2L1023 751.5L1022.2 750.8L1021.4 749.9L1020.6 749L1019.8 747.8L1018.9 746.5L1017.9 745.1L1016.8 743.5L1015.7 741.9L1014.6 740.2L1013.4 738.6L1012.1 736.9L1010.8 735.3L1009.5 733.8L1008.1 732.4L1006.9 731L1005.6 729.7L1004.4 728.3L1003.3 726.8L1002.1 725.1L1000.9 723.2L999.7 721L998.4 718.6L997.1 716.1L995.7 713.4L994.3 710.7L992.9 708.1L991.4 705.6L989.9 703.2L988.4 700.8L986.9 698.5L985.4 696.3L983.9 694.1L982.3 691.9L980.8 689.8L979.2 687.7L977.7 685.6L976 683.5L974.4 681.4L972.8 679.4L971.2 677.5L969.7 675.6L968.4 673.7L967.1 671.9L966 670.3L965 668.6L964 667.1L963.1 665.5L962.2 663.8L961.2 662L960.1 660.2L958.9 658.2L957.6 656.2L956.2 654L954.7 651.7L953.2 649.3L951.6 646.9L949.9 644.5L948.1 642.2L946.2 640L944.1 638L941.9 636.2L939.6 634.6L937.4 633.2L935.2 631.7L933.3 630.2L931.4 628.5L929.8 626.7L928.4 624.5L927.1 622L925.9 619.2L924.8 616.3L923.7 613.4L922.5 610.4L921.3 607.7L920 605.2L918.7 602.9L917.3 600.8L915.9 598.8L914.5 596.9L913.1 595.2L911.7 593.6L910.4 592.1L909 590.9L907.5 589.8L906.1 589.1L904.7 588.5L903.3 588.2L902.1 587.9L901 587.7L900 587.4L899 587L898.1 586.5L897.2 586L896.3 585.4L895.5 584.8L894.7 584.2L893.9 583.6L893.2 583L892.6 582.4L892 581.9L891.4 581.3L890.9 580.7L890.4 580.1L889.9 579.5L889.5 579L889.2 578.5L888.9 578.2L888.1 578.8L888.3 579.2L888.6 579.6L888.9 580.2L889.3 580.8L889.8 581.5L890.3 582.2L890.8 582.9L891.4 583.6L892.1 584.2L892.8 584.9L893.5 585.6L894.3 586.3L895.1 587L896 587.7L897 588.3L898 589L899.1 589.6L900.3 590L901.5 590.3L902.7 590.7L903.8 591.1L904.9 591.6L905.9 592.2L907 593.1L908.2 594.3L909.4 595.7L910.7 597.2L912 598.9L913.2 600.7L914.5 602.6L915.8 604.7L917 606.8L918 609.2L919 611.8L920 614.7L921 617.7L922.1 620.7L923.3 623.7L924.6 626.6L926.2 629.3L928 631.7L930 633.8L932.2 635.6L934.3 637.3L936.4 639L938.4 640.6L940.2 642.2L941.8 644L943.4 645.9L944.9 648.1L946.4 650.4L947.8 652.7L949.2 655.1L950.6 657.4L951.8 659.7L953.1 661.8L954.2 663.7L955.1 665.4L956 667.1L956.9 668.8L957.7 670.5L958.7 672.3L959.7 674.1L960.9 676.1L962.3 678.1L963.7 680.1L965.2 682.1L966.7 684.1L968.3 686.2L969.8 688.2L971.3 690.3L972.8 692.3L974.2 694.4L975.6 696.6L977.1 698.7L978.5 700.9L979.9 703.1L981.3 705.3L982.7 707.6L984 709.8L985.2 712.2L986.4 714.7L987.6 717.3L988.8 720L990.1 722.7L991.3 725.3L992.6 727.9L993.9 730.3L995.3 732.4L996.7 734.4L998.1 736.1L999.4 737.7L1000.7 739.1L1001.8 740.5L1002.9 741.8L1003.9 743.1L1004.9 744.5L1005.9 746.1L1006.9 747.7L1007.9 749.3L1008.9 750.9L1009.8 752.4L1010.6 753.8L1011.4 755L1012 756.2L1012.5 757.3L1012.9 758.3L1013.2 759.1L1013.5 759.9L1013.8 760.6L1013.9 761.2L1014.1 761.7Z"/>
<path d="M910.2 593.7L910 592.9L909.7 591.7L909.3 590.3L909 588.8L908.6 587.3L908.3 585.7L908.1 584.3L908 583L908 581.8L908.1 580.6L908.3 579.3L908.6 578L908.9 576.8L909.1 575.8L909.4 574.8L909.5 574.1L908.5 573.9L908.3 574.5L907.9 575.4L907.6 576.4L907.2 577.6L906.8 578.9L906.4 580.2L906.1 581.6L906 583L906 584.4L906.2 586L906.5 587.7L906.8 589.3L907.1 590.9L907.4 592.2L907.6 593.4L907.8 594.3Z"/>
<path d="M1009.6 766.5L1009.2 766.2L1008.7 765.8L1008.2 765.2L1007.6 764.6L1007 763.9L1006.3 763.1L1005.5 762.2L1004.8 761.2L1004 760.1L1003.2 758.8L1002.2 757.4L1001.3 755.9L1000.3 754.3L999.2 752.7L998.2 751.1L997.1 749.5L996.1 747.9L995.1 746.4L994.1 744.9L993 743.3L991.9 741.7L990.8 740L989.5 738.2L988.2 736.2L986.8 734L985.3 731.5L983.6 728.9L982 726.2L980.3 723.6L978.6 720.9L977 718.5L975.6 716.2L974.3 714.2L973.1 712.4L971.9 710.7L970.8 709.2L969.8 707.6L968.7 706.1L967.6 704.4L966.4 702.5L965.1 700.4L963.7 698.2L962.2 695.8L960.8 693.4L959.3 690.9L957.8 688.5L956.5 686.3L955.2 684.2L954.1 682.3L953.2 680.6L952.3 679L951.5 677.4L950.5 675.8L949.5 674L948.3 672.1L946.8 670L945.1 667.8L943.1 665.3L941 662.7L938.8 660L936.5 657.3L934.2 654.7L932 652.3L929.9 650.1L927.9 648.3L925.9 646.7L923.9 645.4L922.1 644.2L920.4 643.1L918.7 641.9L917.2 640.5L915.6 638.8L914 636.6L912.4 634.1L910.9 631.3L909.3 628.4L907.8 625.4L906.3 622.5L904.8 619.7L903.3 617.3L901.9 615L900.6 612.7L899.3 610.5L898 608.5L896.7 606.5L895.4 604.8L894.1 603.3L892.8 602L891.4 601.1L890 600.6L888.6 600.3L887.3 600.3L886.1 600.4L885 600.6L883.9 600.8L882.9 601L881.7 601.3L880.5 601.6L879.3 602.1L878.2 602.5L877.1 603L876.2 603.5L875.4 603.9L874.8 604.1L875.2 605.1L875.8 604.9L876.7 604.6L877.6 604.3L878.7 603.9L879.8 603.6L881 603.3L882.1 603.1L883.1 603L884.2 602.9L885.3 602.7L886.4 602.6L887.4 602.5L888.4 602.6L889.3 602.8L890.2 603.2L891.2 604L892.2 605L893.3 606.4L894.5 608L895.6 609.9L896.9 612L898.1 614.2L899.4 616.4L900.7 618.7L902 621.2L903.4 624L904.8 626.9L906.2 630L907.7 633L909.2 636L910.8 638.7L912.4 641.2L914.1 643.4L915.9 645.1L917.7 646.7L919.4 648L921.1 649.3L922.8 650.6L924.4 652.1L926.1 653.9L927.9 656L929.9 658.4L931.9 661L934 663.8L936 666.5L937.9 669.2L939.7 671.7L941.2 674L942.5 675.9L943.5 677.6L944.4 679.2L945.2 680.7L945.9 682.3L946.8 684L947.7 685.8L948.8 687.8L950 690L951.3 692.3L952.7 694.8L954.1 697.3L955.5 699.7L957 702.2L958.3 704.5L959.6 706.7L960.8 708.7L961.9 710.5L962.9 712.1L964 713.7L965 715.3L966 717L967.2 718.8L968.4 720.8L969.8 723L971.4 725.5L973 728.1L974.7 730.8L976.4 733.5L978 736.1L979.6 738.5L981 740.8L982.2 742.8L983.3 744.7L984.3 746.5L985.3 748.2L986.2 749.8L987.1 751.4L988 752.9L988.9 754.5L989.7 756.1L990.6 757.8L991.5 759.4L992.3 761.1L993.1 762.6L993.9 764.1L994.6 765.5L995.2 766.8L995.7 767.9L996.1 769L996.5 770L996.8 770.9L997.1 771.7L997.3 772.4L997.4 773.1L997.5 773.6Z"/>
<path d="M894 604.6L893.7 603.8L893.3 602.8L892.8 601.5L892.3 600.1L891.7 598.6L891.1 597.2L890.5 595.8L889.8 594.5L889 593.4L888.1 592.3L887.2 591.3L886.3 590.3L885.4 589.3L884.6 588.5L883.9 587.9L883.4 587.4L882.6 588L883.1 588.6L883.7 589.4L884.4 590.2L885.2 591.2L886.1 592.2L886.9 593.3L887.6 594.4L888.2 595.5L888.8 596.6L889.4 597.9L889.9 599.3L890.4 600.8L890.9 602.2L891.3 603.5L891.7 604.6L892 605.4Z"/>
<path d="M992 781L991.7 780.6L991.3 780.1L990.9 779.5L990.4 778.8L989.9 778L989.3 777.1L988.8 776.1L988.1 775L987.6 773.8L986.9 772.3L986.3 770.8L985.6 769.1L984.8 767.4L984 765.6L983.3 763.8L982.5 762.1L981.7 760.5L981 759L980.3 757.5L979.5 756L978.7 754.4L977.8 752.7L976.9 750.9L975.8 748.9L974.8 746.8L973.6 744.4L972.4 741.9L971 739.3L969.6 736.6L968.1 733.9L966.5 731.2L964.8 728.6L963 726L961 723.5L958.9 721L956.9 718.5L954.8 716.2L952.8 713.9L950.9 711.6L949.1 709.5L947.5 707.4L945.9 705.4L944.4 703.5L942.9 701.5L941.4 699.6L940 697.7L938.5 695.8L937 693.8L935.4 691.8L933.9 689.9L932.3 687.9L930.7 685.9L929.2 684L927.6 682L926.1 680.1L924.5 678.1L922.9 676.1L921.2 674.2L919.5 672.2L917.9 670.3L916.3 668.4L914.8 666.5L913.3 664.6L912.1 662.8L910.9 660.9L909.8 658.9L908.8 656.9L907.9 654.9L907 653L906.1 651L905.4 649.2L904.7 647.4L904.1 645.9L903.8 644.4L903.5 642.9L903.3 641.4L903 639.9L902.7 638.3L902.1 636.8L901.3 635.3L900.3 633.7L899.1 632.3L897.8 630.8L896.4 629.4L895 628.1L893.5 626.9L892 625.8L890.6 624.9L889.2 624.2L887.7 623.7L886.3 623.4L884.9 623.2L883.5 623.1L882.3 623.1L881.1 623L880.1 623L879 623L878 623.1L877.1 623.3L876.3 623.4L875.5 623.6L874.9 623.8L874.3 624L873.9 624.1L874.1 625.1L874.5 625.1L875.1 625L875.8 625L876.5 624.9L877.3 624.9L878.1 624.9L879 624.9L879.9 625L881 625.1L882.2 625.2L883.4 625.3L884.6 625.5L885.8 625.7L887.1 626L888.2 626.5L889.4 627.1L890.6 627.9L891.8 628.9L893.2 630.1L894.5 631.4L895.7 632.7L896.9 634.1L897.9 635.4L898.7 636.7L899.3 638L899.6 639.2L899.9 640.5L900.1 641.9L900.3 643.4L900.5 645L900.8 646.7L901.3 648.6L901.9 650.4L902.6 652.4L903.3 654.4L904 656.6L904.9 658.7L905.8 660.9L906.8 663.1L907.9 665.2L909.2 667.4L910.5 669.5L912 671.6L913.5 673.7L915 675.8L916.6 677.8L918.1 679.9L919.5 681.9L920.9 683.9L922.4 686L923.8 688L925.3 690.1L926.7 692.1L928.1 694.1L929.6 696.2L931 698.2L932.5 700.2L933.9 702.2L935.3 704.1L936.7 706.1L938.1 708.1L939.6 710.2L941.2 712.3L942.9 714.5L944.7 716.8L946.7 719.1L948.8 721.4L950.8 723.8L952.9 726.1L954.8 728.4L956.6 730.8L958.2 733L959.6 735.4L961 737.9L962.4 740.4L963.6 743L964.9 745.6L966 748.1L967.1 750.5L968.2 752.7L969.1 754.7L969.8 756.5L970.5 758.1L971.2 759.7L971.8 761.2L972.4 762.7L972.9 764.3L973.5 765.9L974.1 767.5L974.7 769.2L975.3 771L975.9 772.7L976.4 774.4L976.9 776.1L977.4 777.6L977.9 779L978.1 780.2L978.4 781.4L978.6 782.4L978.7 783.3L978.9 784.2L978.9 784.9L979 785.5L979 786Z"/>
<path d="M900.4 638.8L899.5 638.6L898.4 638.2L897.1 637.7L895.5 637.2L893.9 636.8L892.2 636.4L890.6 636.1L889 636L887.5 636.1L886 636.4L884.4 636.9L883 637.4L881.5 637.9L880.2 638.4L878.9 638.9L877.8 639.3L876.7 639.6L875.7 639.8L874.6 640.1L873.7 640.3L872.8 640.5L872.1 640.7L871.4 640.9L870.9 641L871.1 642L871.6 641.9L872.3 641.8L873.1 641.7L873.9 641.5L874.9 641.4L876 641.2L877.1 641L878.2 640.7L879.4 640.4L880.7 640L882.1 639.5L883.5 639L885 638.6L886.4 638.3L887.7 638.1L889 638L890.3 638.1L891.8 638.4L893.3 638.9L894.8 639.4L896.3 639.9L897.6 640.4L898.8 640.9L899.6 641.2Z"/>
<path d="M976 795.1L975.7 794.7L975.3 794.3L974.9 793.7L974.5 793.1L974 792.3L973.4 791.4L972.8 790.3L972.2 789.1L971.5 787.6L970.8 785.8L970 783.8L969.2 781.7L968.3 779.5L967.3 777.2L966.4 775.1L965.4 773.1L964.6 771.3L963.7 769.6L962.9 768.1L962 766.5L961.1 764.9L960 763.1L958.8 761.3L957.4 759.2L955.9 756.8L954.1 754.2L952.2 751.3L950.2 748.3L948.1 745.4L945.9 742.5L943.8 739.7L941.7 737.2L939.6 734.9L937.4 732.9L935.2 731.1L933.1 729.5L931.2 728L929.3 726.5L927.6 725L926 723.3L924.4 721.5L922.9 719.6L921.4 717.6L919.9 715.5L918.4 713.4L916.9 711.2L915.4 709L913.8 706.8L912.2 704.7L910.5 702.6L908.9 700.5L907.3 698.4L905.6 696.3L903.9 694.2L902.2 692.1L900.4 690L898.7 688L896.9 685.9L895.1 683.9L893.3 681.8L891.5 679.7L889.6 677.8L887.6 675.9L885.6 674.2L883.4 672.6L881.2 671.1L878.9 669.7L876.6 668.4L874.4 667.2L872.3 666.2L870.4 665.3L868.9 664.5L867.6 663.8L866.6 663.4L865.8 663.1L865.1 662.9L864.6 662.8L863.9 662.6L863.2 662.4L862.1 661.9L860.6 661.2L858.7 660.3L856.7 659.3L854.6 658.2L852.6 657.2L850.7 656.3L849.1 655.5L847.9 655L847.5 655.8L848.5 656.5L850 657.5L851.8 658.6L853.8 659.8L855.8 661L857.7 662.2L859.5 663.2L860.9 664.1L862 664.7L862.9 665.2L863.6 665.5L864.1 665.8L864.6 666L865.2 666.3L866 666.8L867.1 667.5L868.7 668.5L870.5 669.5L872.4 670.7L874.5 672L876.6 673.3L878.7 674.8L880.6 676.3L882.4 677.8L884.1 679.5L885.8 681.3L887.4 683.3L889.1 685.3L890.7 687.5L892.3 689.6L893.9 691.8L895.6 694L897.1 696.1L898.7 698.2L900.2 700.3L901.8 702.5L903.3 704.7L904.8 706.8L906.3 709L907.8 711.2L909.3 713.3L910.7 715.4L912.1 717.6L913.5 719.8L915 722.1L916.6 724.3L918.2 726.5L920 728.7L922 730.7L924 732.6L926 734.3L928 735.9L929.9 737.5L931.8 739.2L933.5 740.9L935.3 742.8L937.1 745.1L939.1 747.6L941.1 750.4L943.2 753.2L945.1 756.1L947 758.9L948.7 761.5L950.2 763.8L951.4 765.8L952.4 767.6L953.2 769.2L953.9 770.7L954.6 772.1L955.2 773.6L955.9 775.2L956.6 776.9L957.3 778.8L958 780.9L958.7 783L959.4 785.2L960.1 787.3L960.7 789.4L961.3 791.3L961.8 792.9L962.2 794.3L962.4 795.5L962.6 796.6L962.8 797.5L962.8 798.3L962.9 798.9L962.9 799.5L962.9 800Z"/>
<path d="M863.2 663L863.2 662.4L863.2 661.6L863.2 660.6L863.2 659.5L863.1 658.3L863.1 657.1L863.1 656L863 655L862.9 654L862.8 652.9L862.6 651.8L862.5 650.8L862.4 649.8L862.2 648.9L862.1 648.2L862 647.7L861 647.7L861 648.3L861 649L861 649.9L861 650.9L861 651.9L861 653L861 654.1L861 655L861 656L861 657.1L860.9 658.3L860.9 659.4L860.9 660.5L860.8 661.5L860.8 662.4L860.8 663Z"/>
<path d="M960.1 806.8L959.8 806.5L959.4 806L959 805.5L958.5 804.9L958 804.2L957.5 803.3L956.8 802.2L956.1 800.9L955.3 799.3L954.5 797.4L953.5 795.2L952.5 792.9L951.4 790.6L950.4 788.2L949.4 786.1L948.5 784.2L947.8 782.6L947.2 781.2L946.6 779.8L946.1 778.3L945.3 776.7L944.5 775L943.3 773.2L942 771.3L940.4 769.2L938.6 767L936.6 764.8L934.5 762.5L932.3 760.2L930.1 758L928 755.9L925.9 753.9L923.8 752L921.7 750.4L919.6 748.9L917.6 747.5L915.7 746.1L913.9 744.8L912.2 743.4L910.6 741.9L909.1 740.2L907.5 738.2L906 736.1L904.5 733.9L902.9 731.7L901.4 729.4L899.8 727.3L898.3 725.4L896.8 723.7L895.4 722.1L894 720.7L892.7 719.3L891.3 718L889.8 716.8L888.3 715.5L886.7 714.3L884.8 713L882.8 711.9L880.8 710.9L878.8 709.9L876.9 708.9L875 708L873.3 707L871.6 705.9L870.1 704.7L868.6 703.4L867 702L865.5 700.5L864 699.1L862.5 697.5L861 696L859.4 694.6L857.9 693.2L856.5 691.7L855 690.1L853.5 688.5L851.9 687L850.3 685.6L848.5 684.3L846.7 683.3L844.8 682.4L842.9 681.7L840.8 681.1L838.8 680.7L836.7 680.4L834.7 680.3L832.8 680.3L830.9 680.4L829 680.8L827.1 681.5L825.2 682.4L823.4 683.3L821.8 684.3L820.4 685.2L819.2 686L818.3 686.6L818.7 687.4L819.7 687L821 686.4L822.5 685.6L824.2 684.8L825.9 684L827.7 683.3L829.5 682.8L831.1 682.6L832.8 682.6L834.6 682.7L836.4 682.9L838.3 683.3L840.1 683.8L841.9 684.4L843.7 685.1L845.3 685.9L846.7 686.9L848.2 688.1L849.5 689.5L850.9 690.9L852.3 692.5L853.7 694.2L855.1 695.8L856.6 697.4L858 698.9L859.4 700.5L860.7 702.1L862.1 703.8L863.6 705.4L865.1 707L866.7 708.6L868.4 710.1L870.2 711.5L872.1 712.9L874 714.1L875.9 715.3L877.8 716.4L879.5 717.5L881.1 718.6L882.5 719.7L883.9 720.9L885.2 722L886.5 723.2L887.6 724.4L888.8 725.6L890 727L891.2 728.5L892.5 730L893.8 731.8L895.2 733.7L896.6 735.9L898.1 738.2L899.6 740.5L901.2 742.9L902.9 745.2L904.8 747.3L906.7 749.3L908.7 751.1L910.7 752.7L912.7 754.1L914.7 755.6L916.5 757L918.3 758.5L920.1 760.1L922 762L924.1 764L926.2 766.2L928.2 768.3L930.2 770.5L932.1 772.6L933.7 774.6L935 776.3L936 777.8L936.6 779.1L937.1 780.3L937.5 781.5L937.9 782.8L938.3 784.3L938.8 786L939.5 787.8L940.3 789.9L941.1 792.1L942 794.4L942.9 796.8L943.8 799.2L944.6 801.4L945.3 803.4L945.9 805.1L946.3 806.5L946.6 807.7L946.8 808.8L947 809.7L947.1 810.4L947.2 811.1L947.2 811.6L947.2 812.1Z"/>
<path d="M841.2 681.8L841.1 681.2L841 680.4L840.8 679.4L840.6 678.4L840.5 677.2L840.3 676.1L840.1 674.9L840 673.9L839.8 672.9L839.7 671.8L839.6 670.6L839.4 669.5L839.3 668.4L839.2 667.4L839.1 666.6L839 666L838 666L838 666.6L838 667.5L837.9 668.5L837.9 669.5L837.9 670.7L838 671.9L838 673L838 674.1L838.1 675.2L838.2 676.3L838.3 677.5L838.4 678.6L838.5 679.7L838.6 680.7L838.7 681.5L838.8 682.2Z"/>
</g>
<defs><linearGradient id="hL" gradientUnits="userSpaceOnUse" x1="664" y1="890" x2="698" y2="934"><stop offset="0" stop-color="#dc5562" stop-opacity="0"/><stop offset="1" stop-color="#dc5562" stop-opacity="1"/></linearGradient><linearGradient id="hL2" gradientUnits="userSpaceOnUse" x1="668" y1="896" x2="702" y2="942"><stop offset="0" stop-color="#ec7580" stop-opacity="0"/><stop offset="1" stop-color="#ec7580" stop-opacity="1"/></linearGradient><linearGradient id="hR" gradientUnits="userSpaceOnUse" x1="893" y1="878" x2="864" y2="918"><stop offset="0" stop-color="#dc5562" stop-opacity="0"/><stop offset="1" stop-color="#dc5562" stop-opacity="1"/></linearGradient><linearGradient id="hR2" gradientUnits="userSpaceOnUse" x1="889" y1="884" x2="860" y2="926"><stop offset="0" stop-color="#ec7580" stop-opacity="0"/><stop offset="1" stop-color="#ec7580" stop-opacity="1"/></linearGradient></defs>
<g fill="none" stroke-linecap="butt" filter="url(#b2)">
<path d="M641.5 860.5C644 863.5 651.5 872.7 656.5 878.5C661.5 884.3 666.5 890.2 671.5 895.5C676.5 900.8 681.5 904.2 686.5 910.5C691.5 916.8 697.2 924.8 701.5 933.1C705.8 941.4 708.9 950.9 712.5 960.5C716.1 970.1 720.2 980.8 723.1 990.5C726 1000.2 728.9 1013.8 730 1018.5" stroke="url(#hL)" stroke-width="13"/>
<path d="M643 860C645.5 863 653 872.2 658 878C663 883.8 668 889.7 673 895C678 900.3 683 903.7 688 910C693 916.3 698.7 924.3 703 932.6C707.3 940.9 710.4 950.4 714 960C717.6 969.6 721.7 980.3 724.6 990C727.5 999.7 730.4 1013.3 731.5 1018" stroke="url(#hL2)" stroke-width="5"/>
<path d="M915 847.5C913 849.9 906.8 857.2 903 862C899.2 866.8 897 869.7 892 876C887 882.3 878.5 891.9 872.7 900C867 908.1 861.5 915.8 857.5 924.6C853.5 933.4 851.1 941.9 848.5 953C845.9 964.1 843.4 980.3 842 991C840.6 1001.7 840.5 1012.7 840.2 1017" stroke="url(#hR)" stroke-width="13"/>
<path d="M914 847.5C912 849.9 905.8 857.2 902 862C898.2 866.8 896 869.7 891 876C886 882.3 877.5 891.9 871.7 900C866 908.1 860.5 915.8 856.5 924.6C852.5 933.4 850.1 941.9 847.5 953C844.9 964.1 842.4 980.3 841 991C839.6 1001.7 839.5 1012.7 839.2 1017" stroke="url(#hR2)" stroke-width="5"/>
</g>
<g transform="translate(730.6,1029.6) rotate(14)"><ellipse rx="12" ry="6" fill="#f28d96"/><ellipse rx="9.6" ry="4" fill="#c63643"/></g>
<g transform="translate(841,1026) rotate(-16)"><ellipse rx="10.8" ry="6" fill="#f28d96"/><ellipse rx="8.6" ry="4" fill="#c63643"/></g>
<g stroke="#000" stroke-width="1.6" fill="none">
<path d="M260,191.4 L715,548"/>
<path d="M1021,230 L920,718"/>
<path d="M1021,230 L972.3,680"/>
<path d="M168,476.3 L282.5,558.5"/>
<path d="M245.2,873.8 L315.4,819.4"/>
<path d="M519,1076 L668,896"/>
<path d="M570,1180 L722,988"/>
<path d="M768.7,1141 L768.9,893.6"/>
<path d="M931.8,1031.8 L868.4,868 L790.6,868"/>
</g>
<text x="128.9" y="163.7" font-size="36" textLength="261.3" lengthAdjust="spacingAndGlyphs" fill="#000">Lateral ventricle</text>
<text x="957.9" y="163.7" font-size="36" textLength="253.1" lengthAdjust="spacingAndGlyphs" fill="#000">Lenticulostriate</text>
<text x="957.9" y="209.8" font-size="36" textLength="122.1" lengthAdjust="spacingAndGlyphs" fill="#000">arteries</text>
<text x="28.3" y="432.3" font-size="36" textLength="223.2" lengthAdjust="spacingAndGlyphs" fill="#000">MCA superior</text>
<text x="29" y="479.4" font-size="36" textLength="128" lengthAdjust="spacingAndGlyphs" fill="#000">division</text>
<text x="28.3" y="873.8" font-size="36" textLength="206.1" lengthAdjust="spacingAndGlyphs" fill="#000">MCA inferior</text>
<text x="29" y="920.6" font-size="36" textLength="128" lengthAdjust="spacingAndGlyphs" fill="#000">division</text>
<text x="28" y="1076" font-size="36" textLength="469.1" lengthAdjust="spacingAndGlyphs" fill="#000">Middle cerebral artery (MCA)</text>
<text x="204" y="1188.5" font-size="36" textLength="355" lengthAdjust="spacingAndGlyphs" fill="#000">Internal carotid artery</text>
<text x="864" y="1076.5" font-size="36" textLength="377" lengthAdjust="spacingAndGlyphs" fill="#000">Anterior cerebral artery</text>
<text x="682" y="1188.5" font-size="36" textLength="503" lengthAdjust="spacingAndGlyphs" fill="#000">Anterior communicating artery</text>
<defs><path id="ga" fill-rule="evenodd" d="M320,540 L245,540 L245,520 C225,540 200,548 175,545 C135,540 108,505 110,455 C112,400 150,370 200,355 C225,347 245,340 245,315 L245,285 C245,262 238,250 220,250 C200,250 192,262 190,300 L115,300 C115,225 150,185 222,185 C290,185 320,215 320,280 Z M245,390 C215,400 185,420 185,455 C185,478 195,490 212,490 C232,490 245,470 245,440 Z"/><g id="alamy"><use href="#ga"/><path d="M340,105 L415,105 L415,540 L340,540 Z"/><use href="#ga" x="325"/><path d="M665,190 L740,190 L740,215 C755,195 775,185 800,185 C830,185 850,197 858,218 C875,197 895,185 922,185 C965,185 985,210 985,260 L985,540 L910,540 L910,275 C910,258 903,250 890,250 C872,250 862,262 862,285 L862,540 L788,540 L788,275 C788,258 781,250 768,250 C750,250 740,262 740,285 L740,540 L665,540 Z"/><path d="M995,190 L1072,190 L1072,440 C1072,468 1080,480 1098,480 C1115,480 1125,468 1125,440 L1125,190 L1200,190 L1200,560 C1200,625 1170,650 1100,650 L1015,650 L1015,590 L1085,590 C1112,590 1125,580 1125,555 L1125,520 C1110,538 1090,547 1065,547 C1015,547 995,520 995,465 Z"/></g></defs>
<g fill="#fff" opacity="0.45">
<use href="#alamy" transform="translate(1031.1,480) scale(0.0995)"/>
<use href="#alamy" transform="translate(585,609) scale(0.0995)"/>
<use href="#alamy" transform="translate(879.8,869) scale(0.0995)"/>
<use href="#ga" transform="translate(332.6,363.6) scale(0.0714,0.064)"/>
<use href="#ga" transform="translate(632.6,363.6) scale(0.0714,0.064)"/>
<use href="#ga" transform="translate(932.6,363.6) scale(0.0714,0.064)"/>
<use href="#ga" transform="translate(482.6,493.6) scale(0.0714,0.064)"/>
<use href="#ga" transform="translate(782.6,493.6) scale(0.0714,0.064)"/>
<use href="#ga" transform="translate(782.6,234.6) scale(0.0714,0.064)"/>
<use href="#ga" transform="translate(332.6,623.6) scale(0.0714,0.064)"/>
<use href="#ga" transform="translate(932.6,623.6) scale(0.0714,0.064)"/>
<use href="#ga" transform="translate(482.6,753.6) scale(0.0714,0.064)"/>
<use href="#ga" transform="translate(782.6,753.6) scale(0.0714,0.064)"/>
<use href="#ga" transform="translate(1082.6,753.6) scale(0.0714,0.064)"/>
<use href="#ga" transform="translate(332.6,881.6) scale(0.0714,0.064)"/>
<use href="#ga" transform="translate(632.6,881.6) scale(0.0714,0.064)"/>
</g>
<rect x="0" y="1300" width="1300" height="90" fill="#000"/>
<use href="#alamy" fill="#fff" transform="translate(40,1310) scale(0.09231)"/>
<text x="1250" y="1337" font-size="14.5" fill="#fff" text-anchor="end" textLength="119" lengthAdjust="spacingAndGlyphs">Image ID: CTE79T</text>
<text x="1250" y="1361" font-size="17.3" font-weight="bold" fill="#fff" text-anchor="end" textLength="135" lengthAdjust="spacingAndGlyphs">www.alamy.com</text>
</svg>
</body></html>
